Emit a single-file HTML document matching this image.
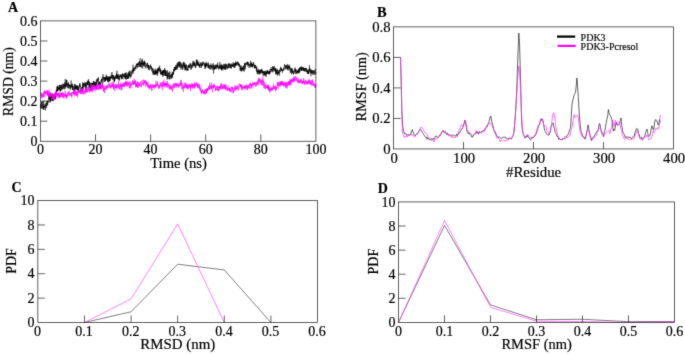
<!DOCTYPE html>
<html><head><meta charset="utf-8"><title>RMSD RMSF</title>
<style>
html,body{margin:0;padding:0;background:#fff;}
body{width:685px;height:354px;overflow:hidden;font-family:"Liberation Serif",serif;}
svg{display:block;}
svg text{font-family:"Liberation Serif",serif;fill:#000;stroke:#000;stroke-width:0.18px;}
</style></head><body>
<svg width="685" height="354" viewBox="0 0 685 354">
<defs><filter id="soft" x="0" y="0" width="685" height="354" filterUnits="userSpaceOnUse" color-interpolation-filters="sRGB"><feConvolveMatrix order="3" kernelMatrix="0.0113 0.0838 0.0113 0.0838 0.6193 0.0838 0.0113 0.0838 0.0113" divisor="1" edgeMode="duplicate" preserveAlpha="true"/></filter></defs>
<g filter="url(#soft)">
<rect width="685" height="354" fill="#fff"/>
<path d="M40.4,108.1 L40.5,104.2 L40.6,105.3 L40.7,106.5 L40.8,105.8 L40.9,108.3 L41.0,104.5 L41.1,108.5 L41.2,108.8 L41.4,108.7 L41.5,107.6 L41.6,101.7 L41.7,105.9 L41.8,104.3 L41.9,101.9 L42.0,105.7 L42.1,107.9 L42.2,107.2 L42.3,106.0 L42.4,108.9 L42.5,106.9 L42.6,106.0 L42.7,101.3 L42.8,103.4 L42.9,105.1 L43.1,106.6 L43.2,106.5 L43.3,108.5 L43.4,105.7 L43.5,109.7 L43.6,105.2 L43.7,100.6 L43.8,105.2 L43.9,104.0 L44.0,106.8 L44.1,110.0 L44.2,106.2 L44.3,107.5 L44.4,105.2 L44.5,105.7 L44.6,105.5 L44.7,106.9 L44.9,105.0 L45.0,104.9 L45.1,107.9 L45.2,107.5 L45.3,105.0 L45.4,105.8 L45.5,108.1 L45.6,110.4 L45.7,107.0 L45.8,102.8 L45.9,105.7 L46.0,104.5 L46.1,104.9 L46.2,104.1 L46.3,103.4 L46.4,103.9 L46.5,106.0 L46.7,107.9 L46.8,100.8 L46.9,103.6 L47.0,105.7 L47.1,103.2 L47.2,102.4 L47.3,101.1 L47.4,102.6 L47.5,104.5 L47.6,102.5 L47.7,105.1 L47.8,104.9 L47.9,100.1 L48.0,102.3 L48.1,101.7 L48.2,102.1 L48.4,102.4 L48.5,98.8 L48.6,98.7 L48.7,95.8 L48.8,99.6 L48.9,98.3 L49.0,98.4 L49.1,98.6 L49.2,93.3 L49.3,94.0 L49.4,95.8 L49.5,99.0 L49.6,96.2 L49.7,97.6 L49.8,100.2 L49.9,102.4 L50.0,95.7 L50.2,102.4 L50.3,97.0 L50.4,100.6 L50.5,99.9 L50.6,96.5 L50.7,101.2 L50.8,99.5 L50.9,97.5 L51.0,94.5 L51.1,95.6 L51.2,97.3 L51.3,99.7 L51.4,94.0 L51.5,97.2 L51.6,96.1 L51.7,100.9 L51.8,97.1 L52.0,95.5 L52.1,97.6 L52.2,95.7 L52.3,94.6 L52.4,93.5 L52.5,98.2 L52.6,99.9 L52.7,101.3 L52.8,96.7 L52.9,99.9 L53.0,94.8 L53.1,100.5 L53.2,93.8 L53.3,96.4 L53.4,100.9 L53.5,96.8 L53.7,95.9 L53.8,95.9 L53.9,96.9 L54.0,96.0 L54.1,96.5 L54.2,98.3 L54.3,96.1 L54.4,98.5 L54.5,94.6 L54.6,98.6 L54.7,96.6 L54.8,99.0 L54.9,94.1 L55.0,96.0 L55.1,99.5 L55.2,97.3 L55.3,98.1 L55.5,96.1 L55.6,96.5 L55.7,96.7 L55.8,96.1 L55.9,98.4 L56.0,93.7 L56.1,92.3 L56.2,95.2 L56.3,92.3 L56.4,89.9 L56.5,90.8 L56.6,89.6 L56.7,90.0 L56.8,92.0 L56.9,86.7 L57.0,90.6 L57.1,91.6 L57.3,86.3 L57.4,90.9 L57.5,87.2 L57.6,90.7 L57.7,87.3 L57.8,85.3 L57.9,89.0 L58.0,87.8 L58.1,86.6 L58.2,88.9 L58.3,87.4 L58.4,88.1 L58.5,89.7 L58.6,90.6 L58.7,88.3 L58.8,87.8 L59.0,88.1 L59.1,89.4 L59.2,88.8 L59.3,90.1 L59.4,85.2 L59.5,89.3 L59.6,85.6 L59.7,87.9 L59.8,88.3 L59.9,84.7 L60.0,88.3 L60.1,92.2 L60.2,88.7 L60.3,89.8 L60.4,85.2 L60.5,90.9 L60.6,89.9 L60.8,90.9 L60.9,90.7 L61.0,87.5 L61.1,87.0 L61.2,85.4 L61.3,87.4 L61.4,88.4 L61.5,86.4 L61.6,88.5 L61.7,84.4 L61.8,90.4 L61.9,86.3 L62.0,89.3 L62.1,88.0 L62.2,88.7 L62.3,88.3 L62.4,84.5 L62.6,87.5 L62.7,88.8 L62.8,88.0 L62.9,87.9 L63.0,85.9 L63.1,83.7 L63.2,85.5 L63.3,85.2 L63.4,85.6 L63.5,83.9 L63.6,87.6 L63.7,85.6 L63.8,88.8 L63.9,89.2 L64.0,84.8 L64.1,86.3 L64.3,85.9 L64.4,89.3 L64.5,86.5 L64.6,82.6 L64.7,86.2 L64.8,85.5 L64.9,86.6 L65.0,84.3 L65.1,87.4 L65.2,78.9 L65.3,84.6 L65.4,85.1 L65.5,83.2 L65.6,88.1 L65.7,88.3 L65.8,88.6 L65.9,86.1 L66.1,81.6 L66.2,87.0 L66.3,79.7 L66.4,81.9 L66.5,80.7 L66.6,82.6 L66.7,86.0 L66.8,85.8 L66.9,80.0 L67.0,85.3 L67.1,84.6 L67.2,84.9 L67.3,83.2 L67.4,83.9 L67.5,86.4 L67.6,87.3 L67.7,83.9 L67.9,88.0 L68.0,87.4 L68.1,88.1 L68.2,87.6 L68.3,88.5 L68.4,83.6 L68.5,85.2 L68.6,82.1 L68.7,86.1 L68.8,85.0 L68.9,87.5 L69.0,84.4 L69.1,85.4 L69.2,86.4 L69.3,84.9 L69.4,86.9 L69.6,86.6 L69.7,87.2 L69.8,84.7 L69.9,88.4 L70.0,89.2 L70.1,84.9 L70.2,87.1 L70.3,89.4 L70.4,89.5 L70.5,87.3 L70.6,87.1 L70.7,85.3 L70.8,87.8 L70.9,87.9 L71.0,83.2 L71.1,80.4 L71.2,82.2 L71.4,86.3 L71.5,85.2 L71.6,87.5 L71.7,84.4 L71.8,87.1 L71.9,87.3 L72.0,83.4 L72.1,84.1 L72.2,87.0 L72.3,89.9 L72.4,88.9 L72.5,90.0 L72.6,84.1 L72.7,88.7 L72.8,86.8 L72.9,87.4 L73.0,89.6 L73.2,86.4 L73.3,86.0 L73.4,86.5 L73.5,87.0 L73.6,86.3 L73.7,89.0 L73.8,88.7 L73.9,89.0 L74.0,90.6 L74.1,88.5 L74.2,94.0 L74.3,90.8 L74.4,88.1 L74.5,83.9 L74.6,85.3 L74.7,88.9 L74.9,85.7 L75.0,88.4 L75.1,89.4 L75.2,88.1 L75.3,84.2 L75.4,85.0 L75.5,89.0 L75.6,89.5 L75.7,84.9 L75.8,88.9 L75.9,88.8 L76.0,86.4 L76.1,90.2 L76.2,89.3 L76.3,87.7 L76.4,88.5 L76.5,86.6 L76.7,88.5 L76.8,86.1 L76.9,85.2 L77.0,88.7 L77.1,85.5 L77.2,86.4 L77.3,89.0 L77.4,89.7 L77.5,89.5 L77.6,85.7 L77.7,88.4 L77.8,88.7 L77.9,90.1 L78.0,87.4 L78.1,91.2 L78.2,87.2 L78.3,90.8 L78.5,91.4 L78.6,86.6 L78.7,86.9 L78.8,87.1 L78.9,90.0 L79.0,86.3 L79.1,87.3 L79.2,87.2 L79.3,86.0 L79.4,84.7 L79.5,87.2 L79.6,83.3 L79.7,85.4 L79.8,85.8 L79.9,85.4 L80.0,85.9 L80.2,83.6 L80.3,86.1 L80.4,86.2 L80.5,86.8 L80.6,86.0 L80.7,91.4 L80.8,90.5 L80.9,89.5 L81.0,87.7 L81.1,88.0 L81.2,90.3 L81.3,92.8 L81.4,93.4 L81.5,89.7 L81.6,90.2 L81.7,88.5 L81.8,87.0 L82.0,92.2 L82.1,87.5 L82.2,90.7 L82.3,89.2 L82.4,87.0 L82.5,90.7 L82.6,81.9 L82.7,87.9 L82.8,84.8 L82.9,87.9 L83.0,89.0 L83.1,88.5 L83.2,88.5 L83.3,89.6 L83.4,89.8 L83.5,83.1 L83.6,86.5 L83.8,85.3 L83.9,83.3 L84.0,87.3 L84.1,85.7 L84.2,83.0 L84.3,83.9 L84.4,83.7 L84.5,86.5 L84.6,86.3 L84.7,83.3 L84.8,85.3 L84.9,82.3 L85.0,82.9 L85.1,84.7 L85.2,84.3 L85.3,85.7 L85.5,84.6 L85.6,91.6 L85.7,88.0 L85.8,84.7 L85.9,82.3 L86.0,88.4 L86.1,85.4 L86.2,84.2 L86.3,82.5 L86.4,86.1 L86.5,89.2 L86.6,85.3 L86.7,84.5 L86.8,84.4 L86.9,83.7 L87.0,82.2 L87.1,85.3 L87.3,81.6 L87.4,80.9 L87.5,83.6 L87.6,85.0 L87.7,84.9 L87.8,82.0 L87.9,85.0 L88.0,80.4 L88.1,82.6 L88.2,83.9 L88.3,81.2 L88.4,83.0 L88.5,79.0 L88.6,79.8 L88.7,84.6 L88.8,84.4 L88.9,88.2 L89.1,83.4 L89.2,84.4 L89.3,83.7 L89.4,87.6 L89.5,81.5 L89.6,82.8 L89.7,86.5 L89.8,85.8 L89.9,85.0 L90.0,82.7 L90.1,83.7 L90.2,85.1 L90.3,85.8 L90.4,88.5 L90.5,87.4 L90.6,89.3 L90.8,83.2 L90.9,85.0 L91.0,84.9 L91.1,86.5 L91.2,87.5 L91.3,90.1 L91.4,87.0 L91.5,85.8 L91.6,85.1 L91.7,82.7 L91.8,83.7 L91.9,86.8 L92.0,85.7 L92.1,82.8 L92.2,89.1 L92.3,84.4 L92.4,82.9 L92.6,83.1 L92.7,84.5 L92.8,82.9 L92.9,84.6 L93.0,84.9 L93.1,83.2 L93.2,83.3 L93.3,83.2 L93.4,80.8 L93.5,81.0 L93.6,88.3 L93.7,83.0 L93.8,82.3 L93.9,81.2 L94.0,84.1 L94.1,83.6 L94.2,82.4 L94.4,85.1 L94.5,87.0 L94.6,82.8 L94.7,83.2 L94.8,86.2 L94.9,81.8 L95.0,84.9 L95.1,82.1 L95.2,86.0 L95.3,84.6 L95.4,86.3 L95.5,85.5 L95.6,83.7 L95.7,83.5 L95.8,85.8 L95.9,81.8 L96.1,87.0 L96.2,88.1 L96.3,84.1 L96.4,79.5 L96.5,84.6 L96.6,85.9 L96.7,84.1 L96.8,81.5 L96.9,81.4 L97.0,82.0 L97.1,80.7 L97.2,78.5 L97.3,81.3 L97.4,79.5 L97.5,80.9 L97.6,80.6 L97.7,79.1 L97.9,80.9 L98.0,83.3 L98.1,79.4 L98.2,78.1 L98.3,79.9 L98.4,76.9 L98.5,79.3 L98.6,85.1 L98.7,83.7 L98.8,85.4 L98.9,85.2 L99.0,85.2 L99.1,82.9 L99.2,82.1 L99.3,87.4 L99.4,82.8 L99.5,84.8 L99.7,81.3 L99.8,84.8 L99.9,88.2 L100.0,83.4 L100.1,82.2 L100.2,82.1 L100.3,82.4 L100.4,84.8 L100.5,84.1 L100.6,82.9 L100.7,83.9 L100.8,82.2 L100.9,81.3 L101.0,79.8 L101.1,79.9 L101.2,80.4 L101.4,79.5 L101.5,81.3 L101.6,82.9 L101.7,79.1 L101.8,81.5 L101.9,81.4 L102.0,78.7 L102.1,79.3 L102.2,79.6 L102.3,76.8 L102.4,79.0 L102.5,79.7 L102.6,81.0 L102.7,84.0 L102.8,83.0 L102.9,80.2 L103.0,74.1 L103.2,78.3 L103.3,79.8 L103.4,77.6 L103.5,77.3 L103.6,77.9 L103.7,76.9 L103.8,77.2 L103.9,79.2 L104.0,78.7 L104.1,82.0 L104.2,78.1 L104.3,77.9 L104.4,78.5 L104.5,77.1 L104.6,80.9 L104.7,80.5 L104.8,77.2 L105.0,82.0 L105.1,78.5 L105.2,78.7 L105.3,78.0 L105.4,80.8 L105.5,77.8 L105.6,80.4 L105.7,76.8 L105.8,77.9 L105.9,78.1 L106.0,76.4 L106.1,74.6 L106.2,79.2 L106.3,78.0 L106.4,80.1 L106.5,76.0 L106.7,76.1 L106.8,79.4 L106.9,78.4 L107.0,80.6 L107.1,77.9 L107.2,76.5 L107.3,79.2 L107.4,78.7 L107.5,81.9 L107.6,76.3 L107.7,80.5 L107.8,78.1 L107.9,79.1 L108.0,77.1 L108.1,79.7 L108.2,79.7 L108.3,80.5 L108.5,76.8 L108.6,82.5 L108.7,76.7 L108.8,77.4 L108.9,77.2 L109.0,81.9 L109.1,81.0 L109.2,80.1 L109.3,78.2 L109.4,81.3 L109.5,76.7 L109.6,81.0 L109.7,76.5 L109.8,77.4 L109.9,77.7 L110.0,77.7 L110.1,77.0 L110.3,80.8 L110.4,76.7 L110.5,79.0 L110.6,78.7 L110.7,79.1 L110.8,76.3 L110.9,76.6 L111.0,78.0 L111.1,78.5 L111.2,74.7 L111.3,78.1 L111.4,76.5 L111.5,77.8 L111.6,75.0 L111.7,72.7 L111.8,73.4 L112.0,72.2 L112.1,72.3 L112.2,78.4 L112.3,77.2 L112.4,77.4 L112.5,74.8 L112.6,76.7 L112.7,79.9 L112.8,75.1 L112.9,77.5 L113.0,74.9 L113.1,78.4 L113.2,75.8 L113.3,75.1 L113.4,79.1 L113.5,77.5 L113.6,77.5 L113.8,78.4 L113.9,78.0 L114.0,82.5 L114.1,76.9 L114.2,78.2 L114.3,80.7 L114.4,77.6 L114.5,81.8 L114.6,80.5 L114.7,76.8 L114.8,78.5 L114.9,80.4 L115.0,76.0 L115.1,79.0 L115.2,78.1 L115.3,77.6 L115.4,76.3 L115.6,76.4 L115.7,78.9 L115.8,77.4 L115.9,75.4 L116.0,74.8 L116.1,76.3 L116.2,75.2 L116.3,75.0 L116.4,78.2 L116.5,76.6 L116.6,73.3 L116.7,77.2 L116.8,74.8 L116.9,79.1 L117.0,70.7 L117.1,77.2 L117.3,74.8 L117.4,76.1 L117.5,79.1 L117.6,77.2 L117.7,75.2 L117.8,77.8 L117.9,75.6 L118.0,78.2 L118.1,76.0 L118.2,74.1 L118.3,79.4 L118.4,76.6 L118.5,78.1 L118.6,78.7 L118.7,76.9 L118.8,76.8 L118.9,75.3 L119.1,75.3 L119.2,80.8 L119.3,78.4 L119.4,80.2 L119.5,76.7 L119.6,75.9 L119.7,76.5 L119.8,78.4 L119.9,76.2 L120.0,74.5 L120.1,75.4 L120.2,76.7 L120.3,76.9 L120.4,74.5 L120.5,76.6 L120.6,76.1 L120.7,76.6 L120.9,75.1 L121.0,75.9 L121.1,77.8 L121.2,78.3 L121.3,77.6 L121.4,76.3 L121.5,75.2 L121.6,79.3 L121.7,74.0 L121.8,78.2 L121.9,77.0 L122.0,79.3 L122.1,77.9 L122.2,76.6 L122.3,75.4 L122.4,75.5 L122.6,74.4 L122.7,76.3 L122.8,73.0 L122.9,79.0 L123.0,75.9 L123.1,75.9 L123.2,76.0 L123.3,75.2 L123.4,76.7 L123.5,74.7 L123.6,76.1 L123.7,74.3 L123.8,74.7 L123.9,74.7 L124.0,74.8 L124.1,76.9 L124.2,74.0 L124.4,73.4 L124.5,76.1 L124.6,77.2 L124.7,76.4 L124.8,73.7 L124.9,78.5 L125.0,76.0 L125.1,76.5 L125.2,75.1 L125.3,79.4 L125.4,75.6 L125.5,79.0 L125.6,75.7 L125.7,73.3 L125.8,76.2 L125.9,72.6 L126.0,76.3 L126.2,76.0 L126.3,72.4 L126.4,74.7 L126.5,75.7 L126.6,79.6 L126.7,77.3 L126.8,75.3 L126.9,77.3 L127.0,77.7 L127.1,75.6 L127.2,79.0 L127.3,77.8 L127.4,74.2 L127.5,73.4 L127.6,79.0 L127.7,77.1 L127.9,76.2 L128.0,78.2 L128.1,77.8 L128.2,76.4 L128.3,78.2 L128.4,77.4 L128.5,72.5 L128.6,78.8 L128.7,71.7 L128.8,72.7 L128.9,76.4 L129.0,73.0 L129.1,74.5 L129.2,77.1 L129.3,75.7 L129.4,75.4 L129.5,70.8 L129.7,75.6 L129.8,75.7 L129.9,74.5 L130.0,75.6 L130.1,70.8 L130.2,75.3 L130.3,75.9 L130.4,75.0 L130.5,75.8 L130.6,78.2 L130.7,74.8 L130.8,75.3 L130.9,74.5 L131.0,71.9 L131.1,72.5 L131.2,73.1 L131.3,76.5 L131.5,74.2 L131.6,74.4 L131.7,73.4 L131.8,73.3 L131.9,72.5 L132.0,70.2 L132.1,74.2 L132.2,70.5 L132.3,71.8 L132.4,72.1 L132.5,71.5 L132.6,72.4 L132.7,71.3 L132.8,69.3 L132.9,71.8 L133.0,64.7 L133.2,73.6 L133.3,73.2 L133.4,68.1 L133.5,70.6 L133.6,70.0 L133.7,70.7 L133.8,68.7 L133.9,70.2 L134.0,67.9 L134.1,70.0 L134.2,69.3 L134.3,67.7 L134.4,67.6 L134.5,68.7 L134.6,70.0 L134.7,71.1 L134.8,70.4 L135.0,66.9 L135.1,69.0 L135.2,68.8 L135.3,67.7 L135.4,66.8 L135.5,65.8 L135.6,67.5 L135.7,67.8 L135.8,69.2 L135.9,66.0 L136.0,66.9 L136.1,66.4 L136.2,67.2 L136.3,64.5 L136.4,63.8 L136.5,65.8 L136.7,64.2 L136.8,65.2 L136.9,65.6 L137.0,63.4 L137.1,67.1 L137.2,65.8 L137.3,68.3 L137.4,63.9 L137.5,65.2 L137.6,64.3 L137.7,65.0 L137.8,63.4 L137.9,65.0 L138.0,65.2 L138.1,63.1 L138.2,62.8 L138.3,64.1 L138.5,62.1 L138.6,62.3 L138.7,65.3 L138.8,64.4 L138.9,64.1 L139.0,67.0 L139.1,65.5 L139.2,67.1 L139.3,61.4 L139.4,65.4 L139.5,64.3 L139.6,63.4 L139.7,61.3 L139.8,64.4 L139.9,62.4 L140.0,62.5 L140.1,58.1 L140.3,66.1 L140.4,65.7 L140.5,66.6 L140.6,63.6 L140.7,65.9 L140.8,63.2 L140.9,67.6 L141.0,63.1 L141.1,63.4 L141.2,61.1 L141.3,62.9 L141.4,63.8 L141.5,62.9 L141.6,67.4 L141.7,63.4 L141.8,62.1 L142.0,59.6 L142.1,62.1 L142.2,64.4 L142.3,58.7 L142.4,64.1 L142.5,62.6 L142.6,64.7 L142.7,68.7 L142.8,61.7 L142.9,64.7 L143.0,63.3 L143.1,65.7 L143.2,63.2 L143.3,61.5 L143.4,63.2 L143.5,64.5 L143.6,64.5 L143.8,63.4 L143.9,66.1 L144.0,63.8 L144.1,62.2 L144.2,66.3 L144.3,66.1 L144.4,60.8 L144.5,64.5 L144.6,60.8 L144.7,64.1 L144.8,63.0 L144.9,64.1 L145.0,62.0 L145.1,62.4 L145.2,65.6 L145.3,68.3 L145.4,66.8 L145.6,65.1 L145.7,66.9 L145.8,63.7 L145.9,64.3 L146.0,64.2 L146.1,63.9 L146.2,63.9 L146.3,63.9 L146.4,64.3 L146.5,66.0 L146.6,65.7 L146.7,65.8 L146.8,65.2 L146.9,68.3 L147.0,68.0 L147.1,63.1 L147.3,64.2 L147.4,63.9 L147.5,62.7 L147.6,66.4 L147.7,64.4 L147.8,65.9 L147.9,68.2 L148.0,65.1 L148.1,65.4 L148.2,64.8 L148.3,66.5 L148.4,66.5 L148.5,68.8 L148.6,64.9 L148.7,70.2 L148.8,66.8 L148.9,67.8 L149.1,67.4 L149.2,66.0 L149.3,67.2 L149.4,69.7 L149.5,70.2 L149.6,69.6 L149.7,67.7 L149.8,66.5 L149.9,65.9 L150.0,65.3 L150.1,66.0 L150.2,66.4 L150.3,67.4 L150.4,66.3 L150.5,67.1 L150.6,64.5 L150.7,65.4 L150.9,69.3 L151.0,67.2 L151.1,66.3 L151.2,68.1 L151.3,66.4 L151.4,68.1 L151.5,68.5 L151.6,67.8 L151.7,70.3 L151.8,70.7 L151.9,70.1 L152.0,67.9 L152.1,69.4 L152.2,71.7 L152.3,68.0 L152.4,68.8 L152.6,68.5 L152.7,69.2 L152.8,70.3 L152.9,73.3 L153.0,71.0 L153.1,74.9 L153.2,72.9 L153.3,68.7 L153.4,71.2 L153.5,71.5 L153.6,73.2 L153.7,71.0 L153.8,73.7 L153.9,71.6 L154.0,71.5 L154.1,73.1 L154.2,74.2 L154.4,75.1 L154.5,72.4 L154.6,72.5 L154.7,72.6 L154.8,70.2 L154.9,74.4 L155.0,70.3 L155.1,75.0 L155.2,68.5 L155.3,70.5 L155.4,70.8 L155.5,74.0 L155.6,71.7 L155.7,71.8 L155.8,73.2 L155.9,73.5 L156.0,71.4 L156.2,73.4 L156.3,69.3 L156.4,70.9 L156.5,73.1 L156.6,71.2 L156.7,72.9 L156.8,74.8 L156.9,71.8 L157.0,73.9 L157.1,69.5 L157.2,70.1 L157.3,75.9 L157.4,71.1 L157.5,72.7 L157.6,68.4 L157.7,71.5 L157.9,71.4 L158.0,70.0 L158.1,73.3 L158.2,71.1 L158.3,68.2 L158.4,71.0 L158.5,69.2 L158.6,70.9 L158.7,67.0 L158.8,66.9 L158.9,70.1 L159.0,70.4 L159.1,67.8 L159.2,69.4 L159.3,69.8 L159.4,70.7 L159.5,66.7 L159.7,65.6 L159.8,68.7 L159.9,72.0 L160.0,71.4 L160.1,68.4 L160.2,72.3 L160.3,71.3 L160.4,70.6 L160.5,71.9 L160.6,69.1 L160.7,74.1 L160.8,72.0 L160.9,74.0 L161.0,71.8 L161.1,75.1 L161.2,73.2 L161.3,70.5 L161.5,74.1 L161.6,72.4 L161.7,73.5 L161.8,72.4 L161.9,73.9 L162.0,72.4 L162.1,74.9 L162.2,72.8 L162.3,71.2 L162.4,73.9 L162.5,71.9 L162.6,70.6 L162.7,72.2 L162.8,76.7 L162.9,70.3 L163.0,76.1 L163.2,73.4 L163.3,72.5 L163.4,70.1 L163.5,73.3 L163.6,75.1 L163.7,72.0 L163.8,69.9 L163.9,73.0 L164.0,69.9 L164.1,72.1 L164.2,71.9 L164.3,72.9 L164.4,71.4 L164.5,71.2 L164.6,68.0 L164.7,75.6 L164.8,69.4 L165.0,71.4 L165.1,73.9 L165.2,75.8 L165.3,71.5 L165.4,76.0 L165.5,69.9 L165.6,75.7 L165.7,73.2 L165.8,75.1 L165.9,75.8 L166.0,74.6 L166.1,70.5 L166.2,73.7 L166.3,73.7 L166.4,72.3 L166.5,71.4 L166.6,76.1 L166.8,74.5 L166.9,75.1 L167.0,75.8 L167.1,79.6 L167.2,74.5 L167.3,74.9 L167.4,77.3 L167.5,70.3 L167.6,78.5 L167.7,76.3 L167.8,75.0 L167.9,76.5 L168.0,75.2 L168.1,72.9 L168.2,77.6 L168.3,79.0 L168.5,76.6 L168.6,76.8 L168.7,76.0 L168.8,76.4 L168.9,75.2 L169.0,72.1 L169.1,76.1 L169.2,72.8 L169.3,76.3 L169.4,77.4 L169.5,79.7 L169.6,76.1 L169.7,75.3 L169.8,71.2 L169.9,78.9 L170.0,77.0 L170.1,76.4 L170.3,75.7 L170.4,75.7 L170.5,77.0 L170.6,75.9 L170.7,77.9 L170.8,77.8 L170.9,75.4 L171.0,74.1 L171.1,76.5 L171.2,78.9 L171.3,76.3 L171.4,75.2 L171.5,76.2 L171.6,73.9 L171.7,78.5 L171.8,77.1 L171.9,77.3 L172.1,72.3 L172.2,74.3 L172.3,76.1 L172.4,77.2 L172.5,73.4 L172.6,77.2 L172.7,72.0 L172.8,72.3 L172.9,73.1 L173.0,74.2 L173.1,74.3 L173.2,72.0 L173.3,73.9 L173.4,71.1 L173.5,74.7 L173.6,69.3 L173.8,71.7 L173.9,69.1 L174.0,69.2 L174.1,71.2 L174.2,69.9 L174.3,69.8 L174.4,67.0 L174.5,69.8 L174.6,71.2 L174.7,67.0 L174.8,68.2 L174.9,70.3 L175.0,67.2 L175.1,69.8 L175.2,67.4 L175.3,69.0 L175.4,65.8 L175.6,66.2 L175.7,65.4 L175.8,69.9 L175.9,68.6 L176.0,69.6 L176.1,68.1 L176.2,66.9 L176.3,68.9 L176.4,66.3 L176.5,66.2 L176.6,66.2 L176.7,67.0 L176.8,66.8 L176.9,64.8 L177.0,69.8 L177.1,63.4 L177.2,68.5 L177.4,65.8 L177.5,66.0 L177.6,64.3 L177.7,65.4 L177.8,62.0 L177.9,67.8 L178.0,64.1 L178.1,65.3 L178.2,63.7 L178.3,66.1 L178.4,62.6 L178.5,63.4 L178.6,62.9 L178.7,64.0 L178.8,63.3 L178.9,61.4 L179.1,64.3 L179.2,67.4 L179.3,63.2 L179.4,61.8 L179.5,63.9 L179.6,64.4 L179.7,67.0 L179.8,63.8 L179.9,66.6 L180.0,63.5 L180.1,63.4 L180.2,61.7 L180.3,63.4 L180.4,63.5 L180.5,65.5 L180.6,62.5 L180.7,69.4 L180.9,67.6 L181.0,62.6 L181.1,67.2 L181.2,67.8 L181.3,67.0 L181.4,64.3 L181.5,64.1 L181.6,64.3 L181.7,66.2 L181.8,66.4 L181.9,65.7 L182.0,67.9 L182.1,66.2 L182.2,69.6 L182.3,65.6 L182.4,67.2 L182.5,66.9 L182.7,66.7 L182.8,69.8 L182.9,62.9 L183.0,65.9 L183.1,64.7 L183.2,65.1 L183.3,64.2 L183.4,65.9 L183.5,62.0 L183.6,64.9 L183.7,66.9 L183.8,67.0 L183.9,61.7 L184.0,68.0 L184.1,67.7 L184.2,68.3 L184.4,65.4 L184.5,65.9 L184.6,63.4 L184.7,67.2 L184.8,67.8 L184.9,63.0 L185.0,70.6 L185.1,66.5 L185.2,69.5 L185.3,65.2 L185.4,67.5 L185.5,64.9 L185.6,67.2 L185.7,65.8 L185.8,69.9 L185.9,68.6 L186.0,68.2 L186.2,69.1 L186.3,67.1 L186.4,67.1 L186.5,64.3 L186.6,70.8 L186.7,68.5 L186.8,69.4 L186.9,68.4 L187.0,67.5 L187.1,65.6 L187.2,66.5 L187.3,69.9 L187.4,69.7 L187.5,69.6 L187.6,68.3 L187.7,70.7 L187.8,68.6 L188.0,70.6 L188.1,67.6 L188.2,67.4 L188.3,65.3 L188.4,67.1 L188.5,67.0 L188.6,65.5 L188.7,68.1 L188.8,64.8 L188.9,66.9 L189.0,65.8 L189.1,67.3 L189.2,66.9 L189.3,67.1 L189.4,67.4 L189.5,66.5 L189.7,64.9 L189.8,68.1 L189.9,65.5 L190.0,63.5 L190.1,65.9 L190.2,63.5 L190.3,64.0 L190.4,66.9 L190.5,67.0 L190.6,63.7 L190.7,63.8 L190.8,64.7 L190.9,65.3 L191.0,69.3 L191.1,66.4 L191.2,69.8 L191.3,68.4 L191.5,68.1 L191.6,67.2 L191.7,65.2 L191.8,66.3 L191.9,68.0 L192.0,66.1 L192.1,64.0 L192.2,63.0 L192.3,67.4 L192.4,65.0 L192.5,64.0 L192.6,64.2 L192.7,65.1 L192.8,62.4 L192.9,60.8 L193.0,63.6 L193.1,65.9 L193.3,66.5 L193.4,63.1 L193.5,61.8 L193.6,64.3 L193.7,64.3 L193.8,64.8 L193.9,61.2 L194.0,66.2 L194.1,63.5 L194.2,65.6 L194.3,63.3 L194.4,64.3 L194.5,62.8 L194.6,65.7 L194.7,65.4 L194.8,65.6 L195.0,66.3 L195.1,62.6 L195.2,64.3 L195.3,67.6 L195.4,65.1 L195.5,66.1 L195.6,67.9 L195.7,65.2 L195.8,64.6 L195.9,65.8 L196.0,65.5 L196.1,65.8 L196.2,66.3 L196.3,59.7 L196.4,65.2 L196.5,61.8 L196.6,61.2 L196.8,61.8 L196.9,65.3 L197.0,60.1 L197.1,62.7 L197.2,59.6 L197.3,63.7 L197.4,65.1 L197.5,61.9 L197.6,64.4 L197.7,63.4 L197.8,62.1 L197.9,65.4 L198.0,65.6 L198.1,64.5 L198.2,63.4 L198.3,65.7 L198.4,65.9 L198.6,63.3 L198.7,63.5 L198.8,65.5 L198.9,61.4 L199.0,65.1 L199.1,64.2 L199.2,66.8 L199.3,64.9 L199.4,64.7 L199.5,66.0 L199.6,67.5 L199.7,65.3 L199.8,65.1 L199.9,64.3 L200.0,67.9 L200.1,64.8 L200.3,65.8 L200.4,63.3 L200.5,64.9 L200.6,64.8 L200.7,64.5 L200.8,63.7 L200.9,62.0 L201.0,64.7 L201.1,64.3 L201.2,66.2 L201.3,64.6 L201.4,67.9 L201.5,65.9 L201.6,62.9 L201.7,64.9 L201.8,65.6 L201.9,65.6 L202.1,65.9 L202.2,64.0 L202.3,65.6 L202.4,65.9 L202.5,62.6 L202.6,64.0 L202.7,64.4 L202.8,65.4 L202.9,62.6 L203.0,61.4 L203.1,64.3 L203.2,63.0 L203.3,62.4 L203.4,62.2 L203.5,63.7 L203.6,63.4 L203.7,63.7 L203.9,64.6 L204.0,63.8 L204.1,63.9 L204.2,65.0 L204.3,66.1 L204.4,65.3 L204.5,65.5 L204.6,64.2 L204.7,62.7 L204.8,63.5 L204.9,63.4 L205.0,68.9 L205.1,63.5 L205.2,68.4 L205.3,65.4 L205.4,65.3 L205.6,64.5 L205.7,67.0 L205.8,64.1 L205.9,67.4 L206.0,63.2 L206.1,66.8 L206.2,61.7 L206.3,66.1 L206.4,65.3 L206.5,65.3 L206.6,63.7 L206.7,65.6 L206.8,65.3 L206.9,65.5 L207.0,64.9 L207.1,63.0 L207.2,65.1 L207.4,64.2 L207.5,65.3 L207.6,65.1 L207.7,64.5 L207.8,65.3 L207.9,67.9 L208.0,65.8 L208.1,66.4 L208.2,65.6 L208.3,62.3 L208.4,65.2 L208.5,67.9 L208.6,63.8 L208.7,67.5 L208.8,67.6 L208.9,67.6 L209.0,65.0 L209.2,69.3 L209.3,67.4 L209.4,67.8 L209.5,65.1 L209.6,66.0 L209.7,66.2 L209.8,66.4 L209.9,67.6 L210.0,68.8 L210.1,65.5 L210.2,67.3 L210.3,67.2 L210.4,67.8 L210.5,69.3 L210.6,68.9 L210.7,66.3 L210.9,63.5 L211.0,66.6 L211.1,64.7 L211.2,66.7 L211.3,66.0 L211.4,65.7 L211.5,67.9 L211.6,66.3 L211.7,67.3 L211.8,66.4 L211.9,69.8 L212.0,65.3 L212.1,65.1 L212.2,65.3 L212.3,65.2 L212.4,66.6 L212.5,66.4 L212.7,66.4 L212.8,69.3 L212.9,67.3 L213.0,67.3 L213.1,63.2 L213.2,67.7 L213.3,64.2 L213.4,68.3 L213.5,73.6 L213.6,69.0 L213.7,68.2 L213.8,65.1 L213.9,69.1 L214.0,67.6 L214.1,69.4 L214.2,67.7 L214.3,67.7 L214.5,69.8 L214.6,65.8 L214.7,66.9 L214.8,68.4 L214.9,65.4 L215.0,68.7 L215.1,67.0 L215.2,68.6 L215.3,69.1 L215.4,65.8 L215.5,65.2 L215.6,66.7 L215.7,66.6 L215.8,68.0 L215.9,64.4 L216.0,67.3 L216.2,65.8 L216.3,67.8 L216.4,69.2 L216.5,66.1 L216.6,64.8 L216.7,66.8 L216.8,66.6 L216.9,66.8 L217.0,65.9 L217.1,67.9 L217.2,68.2 L217.3,66.8 L217.4,64.7 L217.5,64.1 L217.6,65.9 L217.7,62.5 L217.8,67.6 L218.0,66.3 L218.1,65.5 L218.2,66.2 L218.3,66.4 L218.4,68.3 L218.5,68.9 L218.6,69.6 L218.7,65.5 L218.8,67.5 L218.9,66.9 L219.0,66.1 L219.1,66.9 L219.2,69.2 L219.3,67.3 L219.4,67.0 L219.5,65.5 L219.6,66.3 L219.8,68.2 L219.9,61.9 L220.0,65.8 L220.1,65.9 L220.2,68.0 L220.3,68.6 L220.4,66.6 L220.5,66.1 L220.6,66.6 L220.7,65.8 L220.8,66.5 L220.9,68.9 L221.0,63.9 L221.1,69.6 L221.2,64.9 L221.3,67.8 L221.5,70.5 L221.6,68.2 L221.7,65.2 L221.8,69.4 L221.9,67.6 L222.0,64.6 L222.1,68.4 L222.2,65.7 L222.3,69.3 L222.4,66.7 L222.5,67.4 L222.6,67.7 L222.7,68.4 L222.8,65.8 L222.9,70.5 L223.0,65.9 L223.1,67.5 L223.3,68.8 L223.4,66.8 L223.5,66.6 L223.6,67.3 L223.7,68.0 L223.8,64.2 L223.9,66.2 L224.0,68.1 L224.1,63.8 L224.2,65.7 L224.3,67.2 L224.4,69.3 L224.5,66.5 L224.6,68.8 L224.7,68.3 L224.8,68.0 L225.0,69.6 L225.1,64.0 L225.2,67.1 L225.3,65.2 L225.4,66.4 L225.5,63.5 L225.6,69.9 L225.7,66.3 L225.8,69.4 L225.9,65.1 L226.0,65.2 L226.1,65.1 L226.2,68.5 L226.3,66.2 L226.4,66.9 L226.5,66.4 L226.6,64.5 L226.8,66.5 L226.9,64.4 L227.0,64.7 L227.1,64.3 L227.2,67.1 L227.3,67.7 L227.4,67.2 L227.5,69.1 L227.6,68.3 L227.7,68.4 L227.8,66.4 L227.9,68.3 L228.0,66.5 L228.1,67.9 L228.2,63.6 L228.3,65.9 L228.4,65.8 L228.6,68.0 L228.7,64.5 L228.8,63.9 L228.9,66.2 L229.0,64.1 L229.1,63.0 L229.2,66.0 L229.3,63.9 L229.4,65.7 L229.5,65.6 L229.6,67.6 L229.7,66.3 L229.8,66.0 L229.9,65.5 L230.0,67.7 L230.1,67.9 L230.3,64.0 L230.4,66.3 L230.5,65.7 L230.6,66.0 L230.7,68.0 L230.8,66.5 L230.9,66.1 L231.0,68.8 L231.1,63.6 L231.2,68.0 L231.3,68.2 L231.4,66.2 L231.5,64.8 L231.6,64.7 L231.7,65.6 L231.8,63.6 L231.9,65.3 L232.1,66.7 L232.2,65.0 L232.3,66.7 L232.4,66.3 L232.5,64.4 L232.6,66.2 L232.7,66.3 L232.8,64.8 L232.9,65.3 L233.0,65.1 L233.1,66.1 L233.2,62.1 L233.3,64.5 L233.4,63.5 L233.5,64.4 L233.6,66.9 L233.7,65.3 L233.9,65.1 L234.0,63.5 L234.1,67.7 L234.2,67.2 L234.3,63.7 L234.4,67.4 L234.5,67.0 L234.6,64.1 L234.7,64.6 L234.8,63.0 L234.9,67.9 L235.0,63.2 L235.1,63.3 L235.2,65.8 L235.3,65.5 L235.4,63.1 L235.6,66.0 L235.7,61.2 L235.8,62.9 L235.9,66.2 L236.0,64.5 L236.1,63.6 L236.2,62.1 L236.3,65.0 L236.4,63.3 L236.5,63.4 L236.6,63.8 L236.7,64.7 L236.8,63.0 L236.9,63.7 L237.0,63.6 L237.1,63.0 L237.2,63.9 L237.4,61.6 L237.5,62.4 L237.6,63.1 L237.7,65.2 L237.8,62.1 L237.9,63.7 L238.0,64.0 L238.1,65.6 L238.2,64.9 L238.3,62.0 L238.4,63.7 L238.5,64.6 L238.6,64.6 L238.7,65.3 L238.8,63.7 L238.9,65.7 L239.0,66.5 L239.2,63.7 L239.3,65.5 L239.4,64.1 L239.5,66.6 L239.6,66.2 L239.7,65.1 L239.8,66.4 L239.9,67.4 L240.0,67.5 L240.1,70.6 L240.2,67.1 L240.3,67.5 L240.4,70.6 L240.5,66.4 L240.6,66.8 L240.7,65.5 L240.9,68.9 L241.0,68.0 L241.1,71.3 L241.2,65.8 L241.3,69.5 L241.4,68.8 L241.5,69.5 L241.6,70.7 L241.7,71.4 L241.8,68.3 L241.9,71.1 L242.0,67.7 L242.1,69.5 L242.2,67.8 L242.3,69.2 L242.4,69.3 L242.5,69.6 L242.7,66.9 L242.8,66.8 L242.9,66.6 L243.0,69.9 L243.1,68.6 L243.2,68.6 L243.3,65.8 L243.4,68.5 L243.5,70.3 L243.6,68.6 L243.7,70.9 L243.8,65.5 L243.9,68.0 L244.0,66.8 L244.1,71.7 L244.2,67.9 L244.3,68.6 L244.5,66.2 L244.6,64.6 L244.7,67.7 L244.8,62.9 L244.9,64.9 L245.0,63.1 L245.1,65.7 L245.2,65.3 L245.3,63.8 L245.4,69.3 L245.5,63.9 L245.6,62.9 L245.7,62.9 L245.8,63.4 L245.9,64.8 L246.0,64.1 L246.2,65.0 L246.3,62.7 L246.4,62.6 L246.5,64.0 L246.6,64.0 L246.7,63.6 L246.8,63.3 L246.9,62.7 L247.0,61.7 L247.1,64.2 L247.2,62.9 L247.3,62.8 L247.4,62.2 L247.5,64.5 L247.6,61.7 L247.7,63.5 L247.8,66.5 L248.0,62.4 L248.1,65.0 L248.2,64.5 L248.3,64.6 L248.4,64.2 L248.5,64.6 L248.6,62.3 L248.7,63.0 L248.8,65.6 L248.9,64.4 L249.0,67.9 L249.1,67.0 L249.2,65.5 L249.3,65.1 L249.4,64.5 L249.5,65.9 L249.6,65.5 L249.8,64.6 L249.9,64.1 L250.0,64.1 L250.1,64.7 L250.2,63.7 L250.3,67.6 L250.4,66.0 L250.5,66.5 L250.6,65.9 L250.7,60.7 L250.8,65.6 L250.9,62.8 L251.0,65.1 L251.1,65.3 L251.2,62.7 L251.3,65.8 L251.5,65.2 L251.6,64.4 L251.7,66.9 L251.8,62.5 L251.9,66.3 L252.0,64.9 L252.1,67.4 L252.2,66.3 L252.3,66.2 L252.4,64.0 L252.5,66.3 L252.6,66.8 L252.7,63.9 L252.8,65.2 L252.9,66.5 L253.0,64.6 L253.1,63.7 L253.3,62.8 L253.4,63.1 L253.5,63.7 L253.6,62.1 L253.7,65.9 L253.8,63.8 L253.9,64.6 L254.0,65.8 L254.1,65.2 L254.2,68.3 L254.3,67.0 L254.4,67.8 L254.5,65.4 L254.6,64.8 L254.7,68.0 L254.8,65.2 L254.9,67.0 L255.1,65.5 L255.2,65.1 L255.3,67.9 L255.4,67.2 L255.5,67.7 L255.6,65.2 L255.7,66.5 L255.8,65.7 L255.9,68.3 L256.0,67.1 L256.1,68.6 L256.2,68.1 L256.3,70.0 L256.4,70.4 L256.5,67.2 L256.6,71.7 L256.8,69.0 L256.9,66.6 L257.0,72.1 L257.1,71.6 L257.2,70.9 L257.3,74.4 L257.4,70.8 L257.5,73.0 L257.6,73.6 L257.7,70.8 L257.8,72.7 L257.9,69.6 L258.0,69.3 L258.1,69.0 L258.2,71.7 L258.3,71.6 L258.4,70.4 L258.6,74.2 L258.7,70.7 L258.8,71.0 L258.9,70.7 L259.0,72.4 L259.1,73.4 L259.2,69.7 L259.3,73.3 L259.4,70.7 L259.5,71.5 L259.6,74.5 L259.7,72.4 L259.8,70.9 L259.9,69.9 L260.0,69.5 L260.1,72.9 L260.2,70.2 L260.4,71.8 L260.5,71.6 L260.6,70.2 L260.7,73.7 L260.8,69.8 L260.9,70.4 L261.0,73.4 L261.1,72.2 L261.2,73.1 L261.3,71.9 L261.4,70.5 L261.5,69.4 L261.6,68.7 L261.7,72.1 L261.8,69.7 L261.9,71.6 L262.1,70.6 L262.2,71.3 L262.3,69.8 L262.4,72.8 L262.5,71.9 L262.6,73.4 L262.7,71.6 L262.8,72.3 L262.9,71.4 L263.0,75.5 L263.1,74.2 L263.2,73.2 L263.3,71.4 L263.4,73.0 L263.5,71.4 L263.6,71.3 L263.7,71.6 L263.9,76.2 L264.0,74.6 L264.1,71.2 L264.2,73.8 L264.3,75.2 L264.4,75.0 L264.5,73.1 L264.6,71.5 L264.7,74.6 L264.8,72.3 L264.9,70.8 L265.0,70.9 L265.1,73.6 L265.2,75.2 L265.3,72.6 L265.4,75.2 L265.5,71.4 L265.7,72.3 L265.8,75.6 L265.9,73.3 L266.0,74.5 L266.1,77.1 L266.2,70.8 L266.3,72.9 L266.4,73.3 L266.5,72.3 L266.6,73.3 L266.7,74.1 L266.8,72.2 L266.9,73.5 L267.0,70.5 L267.1,73.9 L267.2,73.6 L267.4,70.3 L267.5,72.5 L267.6,72.8 L267.7,70.1 L267.8,71.6 L267.9,73.4 L268.0,71.9 L268.1,71.0 L268.2,71.1 L268.3,74.0 L268.4,72.1 L268.5,74.1 L268.6,72.9 L268.7,74.3 L268.8,72.5 L268.9,73.3 L269.0,71.2 L269.2,73.4 L269.3,71.6 L269.4,74.5 L269.5,74.6 L269.6,71.4 L269.7,72.9 L269.8,71.4 L269.9,72.0 L270.0,69.2 L270.1,70.8 L270.2,70.9 L270.3,73.3 L270.4,72.2 L270.5,71.8 L270.6,70.8 L270.7,69.0 L270.8,70.8 L271.0,71.7 L271.1,67.1 L271.2,68.2 L271.3,71.3 L271.4,71.1 L271.5,69.3 L271.6,69.9 L271.7,69.0 L271.8,69.4 L271.9,70.6 L272.0,69.6 L272.1,69.5 L272.2,68.8 L272.3,69.5 L272.4,72.5 L272.5,69.8 L272.7,66.3 L272.8,69.7 L272.9,66.3 L273.0,69.5 L273.1,71.8 L273.2,70.1 L273.3,68.3 L273.4,69.1 L273.5,67.5 L273.6,68.9 L273.7,68.0 L273.8,69.4 L273.9,70.1 L274.0,66.7 L274.1,66.2 L274.2,67.8 L274.3,70.9 L274.5,68.7 L274.6,66.7 L274.7,68.9 L274.8,69.1 L274.9,70.8 L275.0,68.9 L275.1,68.6 L275.2,71.9 L275.3,69.4 L275.4,71.1 L275.5,67.9 L275.6,70.9 L275.7,74.3 L275.8,73.2 L275.9,70.2 L276.0,72.4 L276.1,74.4 L276.3,69.5 L276.4,73.0 L276.5,73.1 L276.6,70.6 L276.7,73.9 L276.8,70.2 L276.9,68.7 L277.0,72.4 L277.1,74.2 L277.2,75.1 L277.3,74.6 L277.4,69.4 L277.5,73.8 L277.6,72.8 L277.7,74.3 L277.8,75.5 L278.0,72.0 L278.1,73.3 L278.2,71.9 L278.3,72.9 L278.4,72.4 L278.5,72.3 L278.6,74.2 L278.7,72.0 L278.8,70.3 L278.9,72.8 L279.0,71.8 L279.1,72.6 L279.2,70.0 L279.3,72.6 L279.4,75.7 L279.5,71.4 L279.6,69.9 L279.8,69.9 L279.9,69.2 L280.0,70.4 L280.1,70.2 L280.2,72.2 L280.3,72.0 L280.4,70.2 L280.5,67.7 L280.6,67.7 L280.7,70.1 L280.8,70.7 L280.9,66.7 L281.0,67.8 L281.1,70.0 L281.2,68.0 L281.3,68.7 L281.4,70.8 L281.6,70.6 L281.7,71.3 L281.8,68.8 L281.9,69.9 L282.0,69.0 L282.1,70.2 L282.2,70.5 L282.3,70.5 L282.4,70.2 L282.5,72.7 L282.6,70.3 L282.7,69.8 L282.8,70.9 L282.9,70.5 L283.0,70.3 L283.1,69.9 L283.3,70.3 L283.4,69.1 L283.5,68.1 L283.6,67.5 L283.7,69.4 L283.8,70.6 L283.9,68.0 L284.0,68.7 L284.1,69.4 L284.2,67.7 L284.3,67.3 L284.4,66.9 L284.5,64.0 L284.6,66.3 L284.7,66.7 L284.8,65.3 L284.9,65.8 L285.1,67.4 L285.2,65.3 L285.3,67.7 L285.4,68.6 L285.5,67.9 L285.6,65.7 L285.7,68.2 L285.8,69.6 L285.9,68.4 L286.0,66.6 L286.1,66.7 L286.2,67.3 L286.3,67.2 L286.4,65.7 L286.5,65.0 L286.6,65.9 L286.7,68.7 L286.9,65.3 L287.0,65.6 L287.1,68.6 L287.2,69.1 L287.3,68.5 L287.4,63.9 L287.5,64.6 L287.6,69.7 L287.7,67.1 L287.8,66.7 L287.9,68.1 L288.0,66.7 L288.1,70.7 L288.2,67.8 L288.3,66.7 L288.4,66.4 L288.6,68.2 L288.7,65.3 L288.8,68.3 L288.9,66.0 L289.0,67.6 L289.1,66.1 L289.2,64.5 L289.3,68.2 L289.4,68.6 L289.5,68.1 L289.6,70.1 L289.7,69.2 L289.8,66.3 L289.9,68.9 L290.0,67.4 L290.1,67.6 L290.2,72.7 L290.4,72.1 L290.5,69.5 L290.6,69.1 L290.7,71.4 L290.8,71.8 L290.9,73.0 L291.0,71.4 L291.1,71.8 L291.2,69.2 L291.3,68.5 L291.4,70.1 L291.5,74.3 L291.6,70.0 L291.7,68.3 L291.8,70.4 L291.9,68.1 L292.0,71.5 L292.2,72.5 L292.3,68.9 L292.4,71.1 L292.5,72.4 L292.6,71.5 L292.7,72.4 L292.8,71.7 L292.9,72.4 L293.0,72.1 L293.1,70.2 L293.2,74.2 L293.3,72.3 L293.4,71.9 L293.5,73.4 L293.6,74.5 L293.7,71.4 L293.9,71.2 L294.0,73.5 L294.1,72.7 L294.2,72.1 L294.3,71.4 L294.4,71.5 L294.5,71.7 L294.6,69.7 L294.7,70.2 L294.8,71.3 L294.9,69.0 L295.0,69.7 L295.1,67.6 L295.2,71.6 L295.3,68.2 L295.4,71.4 L295.5,72.0 L295.7,71.1 L295.8,74.2 L295.9,70.7 L296.0,71.3 L296.1,73.7 L296.2,72.6 L296.3,69.6 L296.4,71.9 L296.5,71.6 L296.6,70.8 L296.7,70.9 L296.8,72.6 L296.9,71.8 L297.0,73.3 L297.1,71.8 L297.2,71.1 L297.3,72.1 L297.5,71.6 L297.6,73.6 L297.7,70.7 L297.8,70.1 L297.9,71.5 L298.0,71.7 L298.1,69.7 L298.2,72.9 L298.3,70.0 L298.4,73.1 L298.5,73.0 L298.6,72.6 L298.7,69.3 L298.8,68.5 L298.9,72.0 L299.0,68.5 L299.2,68.3 L299.3,73.3 L299.4,71.1 L299.5,71.4 L299.6,67.7 L299.7,71.3 L299.8,72.2 L299.9,71.6 L300.0,68.6 L300.1,70.9 L300.2,67.4 L300.3,67.8 L300.4,66.9 L300.5,69.4 L300.6,67.7 L300.7,69.1 L300.8,68.5 L301.0,68.5 L301.1,67.6 L301.2,69.7 L301.3,66.5 L301.4,70.9 L301.5,69.6 L301.6,69.2 L301.7,70.6 L301.8,66.7 L301.9,69.4 L302.0,67.5 L302.1,68.0 L302.2,68.6 L302.3,69.9 L302.4,70.2 L302.5,69.2 L302.6,68.0 L302.8,68.0 L302.9,67.0 L303.0,71.1 L303.1,70.8 L303.2,68.1 L303.3,67.3 L303.4,69.4 L303.5,69.7 L303.6,67.7 L303.7,70.9 L303.8,70.2 L303.9,68.4 L304.0,67.9 L304.1,71.0 L304.2,68.6 L304.3,70.5 L304.5,68.3 L304.6,68.6 L304.7,71.5 L304.8,68.1 L304.9,69.9 L305.0,69.8 L305.1,69.8 L305.2,69.4 L305.3,70.2 L305.4,70.1 L305.5,69.8 L305.6,68.1 L305.7,70.5 L305.8,71.9 L305.9,67.9 L306.0,69.5 L306.1,70.6 L306.3,71.5 L306.4,70.4 L306.5,68.0 L306.6,71.0 L306.7,71.3 L306.8,71.6 L306.9,69.2 L307.0,69.4 L307.1,70.9 L307.2,70.1 L307.3,73.2 L307.4,70.8 L307.5,73.8 L307.6,70.8 L307.7,73.8 L307.8,73.8 L307.9,71.6 L308.1,71.8 L308.2,70.7 L308.3,73.5 L308.4,69.4 L308.5,74.1 L308.6,71.6 L308.7,72.2 L308.8,72.5 L308.9,73.5 L309.0,70.3 L309.1,70.6 L309.2,72.2 L309.3,68.6 L309.4,65.2 L309.5,71.3 L309.6,67.7 L309.8,68.2 L309.9,70.4 L310.0,69.5 L310.1,69.6 L310.2,71.4 L310.3,70.5 L310.4,72.4 L310.5,72.7 L310.6,72.2 L310.7,72.4 L310.8,68.8 L310.9,76.3 L311.0,71.8 L311.1,73.9 L311.2,71.2 L311.3,70.2 L311.4,72.5 L311.6,71.1 L311.7,70.0 L311.8,72.4 L311.9,73.2 L312.0,71.6 L312.1,70.2 L312.2,71.4 L312.3,73.2 L312.4,70.3 L312.5,73.5 L312.6,74.5 L312.7,74.9 L312.8,74.2 L312.9,72.4 L313.0,73.2 L313.1,72.3 L313.2,73.2 L313.4,72.7 L313.5,70.2 L313.6,72.0 L313.7,72.1 L313.8,71.3 L313.9,74.3 L314.0,73.9 L314.1,74.8 L314.2,71.5 L314.3,71.1 L314.4,72.0 L314.5,71.6 L314.6,74.1 L314.7,72.9 L314.8,70.6 L314.9,72.1 L315.1,70.3 L315.2,70.5 L315.3,68.9 L315.4,72.7 L315.5,74.5 L315.6,74.1 L315.7,73.5 L315.8,72.3 L315.9,73.1" fill="none" stroke="#000" stroke-width="0.45" stroke-linejoin="round"/>
<path d="M40.4,96.7 L40.5,96.1 L40.6,95.4 L40.7,95.7 L40.8,93.0 L40.9,92.3 L41.0,94.2 L41.1,94.7 L41.2,96.7 L41.4,97.1 L41.5,96.4 L41.6,94.8 L41.7,93.2 L41.8,93.1 L41.9,98.8 L42.0,95.8 L42.1,94.1 L42.2,95.6 L42.3,93.7 L42.4,97.2 L42.5,96.0 L42.6,96.6 L42.7,94.5 L42.8,94.3 L42.9,96.9 L43.1,93.9 L43.2,93.2 L43.3,94.4 L43.4,95.1 L43.5,96.8 L43.6,94.3 L43.7,95.0 L43.8,91.5 L43.9,94.8 L44.0,94.4 L44.1,97.5 L44.2,92.4 L44.3,94.6 L44.4,90.4 L44.5,93.1 L44.6,91.1 L44.7,91.0 L44.9,91.2 L45.0,93.2 L45.1,92.0 L45.2,91.9 L45.3,92.9 L45.4,94.2 L45.5,94.1 L45.6,93.3 L45.7,90.8 L45.8,92.8 L45.9,91.9 L46.0,92.2 L46.1,93.8 L46.2,92.0 L46.3,92.9 L46.4,92.5 L46.5,91.8 L46.7,91.9 L46.8,94.8 L46.9,90.3 L47.0,95.6 L47.1,92.3 L47.2,91.5 L47.3,90.6 L47.4,91.4 L47.5,90.6 L47.6,92.9 L47.7,95.5 L47.8,90.6 L47.9,92.8 L48.0,96.4 L48.1,94.3 L48.2,92.3 L48.4,95.9 L48.5,94.3 L48.6,97.1 L48.7,94.3 L48.8,92.0 L48.9,90.7 L49.0,89.7 L49.1,93.6 L49.2,92.3 L49.3,95.0 L49.4,92.6 L49.5,91.9 L49.6,94.1 L49.7,94.2 L49.8,96.6 L49.9,93.3 L50.0,93.5 L50.2,97.0 L50.3,93.3 L50.4,95.1 L50.5,95.9 L50.6,92.9 L50.7,95.1 L50.8,91.8 L50.9,96.2 L51.0,95.1 L51.1,94.9 L51.2,99.5 L51.3,93.5 L51.4,95.5 L51.5,95.6 L51.6,94.7 L51.7,93.8 L51.8,95.2 L52.0,96.3 L52.1,94.0 L52.2,94.8 L52.3,93.9 L52.4,95.0 L52.5,99.4 L52.6,96.9 L52.7,97.8 L52.8,98.7 L52.9,97.0 L53.0,94.4 L53.1,97.7 L53.2,96.9 L53.3,94.6 L53.4,99.9 L53.5,95.8 L53.7,96.1 L53.8,99.9 L53.9,96.9 L54.0,99.1 L54.1,100.2 L54.2,93.7 L54.3,99.6 L54.4,100.0 L54.5,97.4 L54.6,95.5 L54.7,97.4 L54.8,95.1 L54.9,92.8 L55.0,94.2 L55.1,92.7 L55.2,96.1 L55.3,93.7 L55.5,91.5 L55.6,95.2 L55.7,95.1 L55.8,94.7 L55.9,90.7 L56.0,94.5 L56.1,95.1 L56.2,94.4 L56.3,96.8 L56.4,96.7 L56.5,96.1 L56.6,92.5 L56.7,94.2 L56.8,94.0 L56.9,93.2 L57.0,94.3 L57.1,95.6 L57.3,93.4 L57.4,94.5 L57.5,94.9 L57.6,95.5 L57.7,95.0 L57.8,93.3 L57.9,94.6 L58.0,96.1 L58.1,92.4 L58.2,97.8 L58.3,93.8 L58.4,97.3 L58.5,93.4 L58.6,93.0 L58.7,95.8 L58.8,93.8 L59.0,92.7 L59.1,96.8 L59.2,98.5 L59.3,93.0 L59.4,97.0 L59.5,95.6 L59.6,93.6 L59.7,97.3 L59.8,95.4 L59.9,94.3 L60.0,97.5 L60.1,95.2 L60.2,95.3 L60.3,96.2 L60.4,97.1 L60.5,95.8 L60.6,95.8 L60.8,93.7 L60.9,96.1 L61.0,93.0 L61.1,95.2 L61.2,92.2 L61.3,92.3 L61.4,95.3 L61.5,92.8 L61.6,93.4 L61.7,94.2 L61.8,93.5 L61.9,95.3 L62.0,97.3 L62.1,96.3 L62.2,94.7 L62.3,92.8 L62.4,96.3 L62.6,92.5 L62.7,92.1 L62.8,97.1 L62.9,97.0 L63.0,93.3 L63.1,94.6 L63.2,98.4 L63.3,92.7 L63.4,94.1 L63.5,97.9 L63.6,96.8 L63.7,95.3 L63.8,96.0 L63.9,94.6 L64.0,95.1 L64.1,95.2 L64.3,95.7 L64.4,95.6 L64.5,94.6 L64.6,95.6 L64.7,93.0 L64.8,94.3 L64.9,98.1 L65.0,93.9 L65.1,93.2 L65.2,90.4 L65.3,93.5 L65.4,95.8 L65.5,96.8 L65.6,95.7 L65.7,94.6 L65.8,93.9 L65.9,96.8 L66.1,97.2 L66.2,94.4 L66.3,97.6 L66.4,97.5 L66.5,95.4 L66.6,95.5 L66.7,95.8 L66.8,95.3 L66.9,99.2 L67.0,95.3 L67.1,95.0 L67.2,93.4 L67.3,95.1 L67.4,93.3 L67.5,93.5 L67.6,96.4 L67.7,96.9 L67.9,92.0 L68.0,92.0 L68.1,91.9 L68.2,92.0 L68.3,93.6 L68.4,92.4 L68.5,93.9 L68.6,93.0 L68.7,93.6 L68.8,95.7 L68.9,94.9 L69.0,92.4 L69.1,90.6 L69.2,93.7 L69.3,93.0 L69.4,93.7 L69.6,96.0 L69.7,93.5 L69.8,93.1 L69.9,93.3 L70.0,94.0 L70.1,92.9 L70.2,94.0 L70.3,93.3 L70.4,93.1 L70.5,94.1 L70.6,93.7 L70.7,94.6 L70.8,95.8 L70.9,93.9 L71.0,95.3 L71.1,93.4 L71.2,94.5 L71.4,95.2 L71.5,97.0 L71.6,97.6 L71.7,92.2 L71.8,96.4 L71.9,94.9 L72.0,94.6 L72.1,95.0 L72.2,95.1 L72.3,94.4 L72.4,92.0 L72.5,92.2 L72.6,93.0 L72.7,92.3 L72.8,93.0 L72.9,92.4 L73.0,94.5 L73.2,90.7 L73.3,90.4 L73.4,91.9 L73.5,93.9 L73.6,93.7 L73.7,91.5 L73.8,89.8 L73.9,92.2 L74.0,91.3 L74.1,90.3 L74.2,94.2 L74.3,91.1 L74.4,90.5 L74.5,93.2 L74.6,94.4 L74.7,96.3 L74.9,93.7 L75.0,94.6 L75.1,91.8 L75.2,92.2 L75.3,93.1 L75.4,93.2 L75.5,93.5 L75.6,93.2 L75.7,90.1 L75.8,94.9 L75.9,91.2 L76.0,93.7 L76.1,92.1 L76.2,95.8 L76.3,91.8 L76.4,94.6 L76.5,94.2 L76.7,95.9 L76.8,94.4 L76.9,95.3 L77.0,94.0 L77.1,92.1 L77.2,93.5 L77.3,96.7 L77.4,97.5 L77.5,93.9 L77.6,95.5 L77.7,91.0 L77.8,92.7 L77.9,91.9 L78.0,90.0 L78.1,90.8 L78.2,92.7 L78.3,93.7 L78.5,90.5 L78.6,92.3 L78.7,91.8 L78.8,92.9 L78.9,90.7 L79.0,92.5 L79.1,91.9 L79.2,89.9 L79.3,92.0 L79.4,90.8 L79.5,90.5 L79.6,93.2 L79.7,91.2 L79.8,90.9 L79.9,90.5 L80.0,92.1 L80.2,91.4 L80.3,91.9 L80.4,89.8 L80.5,94.1 L80.6,93.1 L80.7,92.1 L80.8,91.0 L80.9,90.0 L81.0,89.7 L81.1,92.6 L81.2,90.7 L81.3,87.9 L81.4,94.0 L81.5,90.2 L81.6,92.6 L81.7,91.2 L81.8,90.9 L82.0,88.7 L82.1,90.4 L82.2,88.7 L82.3,90.0 L82.4,90.0 L82.5,88.6 L82.6,88.1 L82.7,89.7 L82.8,94.1 L82.9,88.6 L83.0,94.1 L83.1,93.4 L83.2,91.8 L83.3,92.0 L83.4,88.6 L83.5,89.3 L83.6,89.8 L83.8,90.5 L83.9,94.3 L84.0,94.3 L84.1,91.9 L84.2,91.5 L84.3,92.2 L84.4,93.7 L84.5,91.3 L84.6,91.1 L84.7,91.0 L84.8,92.7 L84.9,90.8 L85.0,90.0 L85.1,89.5 L85.2,93.9 L85.3,90.6 L85.5,89.8 L85.6,89.1 L85.7,92.0 L85.8,92.0 L85.9,91.5 L86.0,91.3 L86.1,91.9 L86.2,92.3 L86.3,90.9 L86.4,89.4 L86.5,90.7 L86.6,91.8 L86.7,87.0 L86.8,91.6 L86.9,91.4 L87.0,90.3 L87.1,90.7 L87.3,89.9 L87.4,92.5 L87.5,90.1 L87.6,90.7 L87.7,92.2 L87.8,86.9 L87.9,89.7 L88.0,88.6 L88.1,88.7 L88.2,90.3 L88.3,89.1 L88.4,85.4 L88.5,88.8 L88.6,89.3 L88.7,88.8 L88.8,90.0 L88.9,90.4 L89.1,92.3 L89.2,87.7 L89.3,90.4 L89.4,89.1 L89.5,88.8 L89.6,90.3 L89.7,91.1 L89.8,89.3 L89.9,90.2 L90.0,88.7 L90.1,92.2 L90.2,92.4 L90.3,90.1 L90.4,89.7 L90.5,89.7 L90.6,91.0 L90.8,89.7 L90.9,85.9 L91.0,88.0 L91.1,89.9 L91.2,88.2 L91.3,87.9 L91.4,90.7 L91.5,88.3 L91.6,86.8 L91.7,90.2 L91.8,91.2 L91.9,88.3 L92.0,87.1 L92.1,84.6 L92.2,86.6 L92.3,84.9 L92.4,90.2 L92.6,88.8 L92.7,92.2 L92.8,89.3 L92.9,87.5 L93.0,89.9 L93.1,89.8 L93.2,87.5 L93.3,89.3 L93.4,87.6 L93.5,86.7 L93.6,89.5 L93.7,85.2 L93.8,85.5 L93.9,87.6 L94.0,87.6 L94.1,87.5 L94.2,88.0 L94.4,88.2 L94.5,85.3 L94.6,85.9 L94.7,85.8 L94.8,89.8 L94.9,85.9 L95.0,87.0 L95.1,90.7 L95.2,91.6 L95.3,88.2 L95.4,88.6 L95.5,89.4 L95.6,85.3 L95.7,88.5 L95.8,86.7 L95.9,89.9 L96.1,87.3 L96.2,86.3 L96.3,89.4 L96.4,85.9 L96.5,88.0 L96.6,87.1 L96.7,86.7 L96.8,89.2 L96.9,84.7 L97.0,90.1 L97.1,84.7 L97.2,86.6 L97.3,87.2 L97.4,87.9 L97.5,85.6 L97.6,81.9 L97.7,82.6 L97.9,85.4 L98.0,89.8 L98.1,87.7 L98.2,88.0 L98.3,89.1 L98.4,85.7 L98.5,86.4 L98.6,85.9 L98.7,84.6 L98.8,85.5 L98.9,89.8 L99.0,88.5 L99.1,86.4 L99.2,84.3 L99.3,85.6 L99.4,85.9 L99.5,86.3 L99.7,84.4 L99.8,87.2 L99.9,86.2 L100.0,88.0 L100.1,89.3 L100.2,88.3 L100.3,86.4 L100.4,89.5 L100.5,86.6 L100.6,88.3 L100.7,86.8 L100.8,84.2 L100.9,87.4 L101.0,88.8 L101.1,84.1 L101.2,86.0 L101.4,86.5 L101.5,88.9 L101.6,84.5 L101.7,88.5 L101.8,88.3 L101.9,84.4 L102.0,87.8 L102.1,87.6 L102.2,84.6 L102.3,87.3 L102.4,85.0 L102.5,83.3 L102.6,85.6 L102.7,85.7 L102.8,87.3 L102.9,85.3 L103.0,87.5 L103.2,90.8 L103.3,86.6 L103.4,87.9 L103.5,86.5 L103.6,91.9 L103.7,89.9 L103.8,87.2 L103.9,89.9 L104.0,90.2 L104.1,89.5 L104.2,86.1 L104.3,87.7 L104.4,88.4 L104.5,93.1 L104.6,89.1 L104.7,88.1 L104.8,89.2 L105.0,88.0 L105.1,88.6 L105.2,89.3 L105.3,90.1 L105.4,89.2 L105.5,86.0 L105.6,85.7 L105.7,85.7 L105.8,88.5 L105.9,87.9 L106.0,86.4 L106.1,87.8 L106.2,89.7 L106.3,88.4 L106.4,87.0 L106.5,86.1 L106.7,86.0 L106.8,88.3 L106.9,85.2 L107.0,88.5 L107.1,85.5 L107.2,85.9 L107.3,86.6 L107.4,87.5 L107.5,86.5 L107.6,85.5 L107.7,85.3 L107.8,86.6 L107.9,86.8 L108.0,88.2 L108.1,85.7 L108.2,83.9 L108.3,83.7 L108.5,84.3 L108.6,84.2 L108.7,84.3 L108.8,83.6 L108.9,84.8 L109.0,86.5 L109.1,84.7 L109.2,83.0 L109.3,87.8 L109.4,86.3 L109.5,85.0 L109.6,85.7 L109.7,85.8 L109.8,86.7 L109.9,87.3 L110.0,85.1 L110.1,87.0 L110.3,86.6 L110.4,88.7 L110.5,85.3 L110.6,84.8 L110.7,87.8 L110.8,86.8 L110.9,87.3 L111.0,86.9 L111.1,84.8 L111.2,82.1 L111.3,83.7 L111.4,87.1 L111.5,86.4 L111.6,87.0 L111.7,86.6 L111.8,86.5 L112.0,86.1 L112.1,87.0 L112.2,85.4 L112.3,86.0 L112.4,83.8 L112.5,86.2 L112.6,83.8 L112.7,81.8 L112.8,87.1 L112.9,84.3 L113.0,85.8 L113.1,84.3 L113.2,89.0 L113.3,87.7 L113.4,86.8 L113.5,89.3 L113.6,85.3 L113.8,82.8 L113.9,86.3 L114.0,85.2 L114.1,88.7 L114.2,86.2 L114.3,84.8 L114.4,85.1 L114.5,85.0 L114.6,86.8 L114.7,85.8 L114.8,91.4 L114.9,88.5 L115.0,86.8 L115.1,87.0 L115.2,85.7 L115.3,88.1 L115.4,84.0 L115.6,85.1 L115.7,86.2 L115.8,88.1 L115.9,88.3 L116.0,85.7 L116.1,88.5 L116.2,86.5 L116.3,86.9 L116.4,86.7 L116.5,87.2 L116.6,85.1 L116.7,88.4 L116.8,84.0 L116.9,84.0 L117.0,84.1 L117.1,87.6 L117.3,85.3 L117.4,83.9 L117.5,84.9 L117.6,85.2 L117.7,85.5 L117.8,86.7 L117.9,85.9 L118.0,83.9 L118.1,84.5 L118.2,86.2 L118.3,88.5 L118.4,86.8 L118.5,86.6 L118.6,87.4 L118.7,80.9 L118.8,84.3 L118.9,85.7 L119.1,86.7 L119.2,86.2 L119.3,86.6 L119.4,86.3 L119.5,88.7 L119.6,84.3 L119.7,89.4 L119.8,86.8 L119.9,85.3 L120.0,89.0 L120.1,89.9 L120.2,88.2 L120.3,87.7 L120.4,86.8 L120.5,83.0 L120.6,85.9 L120.7,85.5 L120.9,85.7 L121.0,87.3 L121.1,85.2 L121.2,84.3 L121.3,86.5 L121.4,85.7 L121.5,84.4 L121.6,90.3 L121.7,87.8 L121.8,86.1 L121.9,89.7 L122.0,85.5 L122.1,83.9 L122.2,86.4 L122.3,87.1 L122.4,85.7 L122.6,83.1 L122.7,86.2 L122.8,86.5 L122.9,85.5 L123.0,84.5 L123.1,86.6 L123.2,85.7 L123.3,84.0 L123.4,84.1 L123.5,83.1 L123.6,86.4 L123.7,82.9 L123.8,82.3 L123.9,83.4 L124.0,86.2 L124.1,84.8 L124.2,82.4 L124.4,87.3 L124.5,84.6 L124.6,85.5 L124.7,83.8 L124.8,83.6 L124.9,83.9 L125.0,82.8 L125.1,83.8 L125.2,84.7 L125.3,85.6 L125.4,82.3 L125.5,81.2 L125.6,84.4 L125.7,84.9 L125.8,81.9 L125.9,84.8 L126.0,82.2 L126.2,85.0 L126.3,84.5 L126.4,83.8 L126.5,82.7 L126.6,83.4 L126.7,85.7 L126.8,80.6 L126.9,80.8 L127.0,84.1 L127.1,86.8 L127.2,81.7 L127.3,83.2 L127.4,82.4 L127.5,85.1 L127.6,84.7 L127.7,84.9 L127.9,86.2 L128.0,84.5 L128.1,84.8 L128.2,84.4 L128.3,85.3 L128.4,85.2 L128.5,82.3 L128.6,84.1 L128.7,84.9 L128.8,83.0 L128.9,82.1 L129.0,85.5 L129.1,85.9 L129.2,87.9 L129.3,85.0 L129.4,85.5 L129.5,88.3 L129.7,83.2 L129.8,82.4 L129.9,83.6 L130.0,80.7 L130.1,84.3 L130.2,86.8 L130.3,84.2 L130.4,85.6 L130.5,84.0 L130.6,84.7 L130.7,88.3 L130.8,86.4 L130.9,86.2 L131.0,84.6 L131.1,83.3 L131.2,82.4 L131.3,84.3 L131.5,84.2 L131.6,84.8 L131.7,85.3 L131.8,83.5 L131.9,83.4 L132.0,84.5 L132.1,84.7 L132.2,82.7 L132.3,84.0 L132.4,81.1 L132.5,83.3 L132.6,84.2 L132.7,83.2 L132.8,79.8 L132.9,82.5 L133.0,84.6 L133.2,82.3 L133.3,84.4 L133.4,83.3 L133.5,84.0 L133.6,82.6 L133.7,85.0 L133.8,80.8 L133.9,83.6 L134.0,84.2 L134.1,82.3 L134.2,80.9 L134.3,78.6 L134.4,84.4 L134.5,82.7 L134.6,83.3 L134.7,81.8 L134.8,81.1 L135.0,82.6 L135.1,80.5 L135.2,82.8 L135.3,80.9 L135.4,84.4 L135.5,80.7 L135.6,87.3 L135.7,85.6 L135.8,83.1 L135.9,83.0 L136.0,87.1 L136.1,86.0 L136.2,84.8 L136.3,86.6 L136.4,83.6 L136.5,87.0 L136.7,83.0 L136.8,82.4 L136.9,83.9 L137.0,86.2 L137.1,85.3 L137.2,86.6 L137.3,86.5 L137.4,88.0 L137.5,81.2 L137.6,84.7 L137.7,84.8 L137.8,85.2 L137.9,83.9 L138.0,84.1 L138.1,87.7 L138.2,81.9 L138.3,84.2 L138.5,84.2 L138.6,86.9 L138.7,84.9 L138.8,85.5 L138.9,82.4 L139.0,86.2 L139.1,84.5 L139.2,85.2 L139.3,85.1 L139.4,84.7 L139.5,86.2 L139.6,84.0 L139.7,83.1 L139.8,82.8 L139.9,82.7 L140.0,83.5 L140.1,82.6 L140.3,83.2 L140.4,83.1 L140.5,81.4 L140.6,82.1 L140.7,82.1 L140.8,85.2 L140.9,86.9 L141.0,84.2 L141.1,83.6 L141.2,83.5 L141.3,83.2 L141.4,84.3 L141.5,87.4 L141.6,82.0 L141.7,81.9 L141.8,82.1 L142.0,80.4 L142.1,80.0 L142.2,81.6 L142.3,80.7 L142.4,82.1 L142.5,84.8 L142.6,84.2 L142.7,85.1 L142.8,85.1 L142.9,83.8 L143.0,82.8 L143.1,82.5 L143.2,85.0 L143.3,84.3 L143.4,82.6 L143.5,81.5 L143.6,79.5 L143.8,86.0 L143.9,84.5 L144.0,82.0 L144.1,82.8 L144.2,81.9 L144.3,80.4 L144.4,83.8 L144.5,82.5 L144.6,81.3 L144.7,80.2 L144.8,80.1 L144.9,80.5 L145.0,82.8 L145.1,81.2 L145.2,82.0 L145.3,79.9 L145.4,80.8 L145.6,82.4 L145.7,84.1 L145.8,87.1 L145.9,81.0 L146.0,85.1 L146.1,85.0 L146.2,82.6 L146.3,81.4 L146.4,83.7 L146.5,84.1 L146.6,84.2 L146.7,83.0 L146.8,83.3 L146.9,82.5 L147.0,85.5 L147.1,82.2 L147.3,85.5 L147.4,84.7 L147.5,83.3 L147.6,83.6 L147.7,85.9 L147.8,88.0 L147.9,84.6 L148.0,86.2 L148.1,85.4 L148.2,85.7 L148.3,84.5 L148.4,83.3 L148.5,85.1 L148.6,85.0 L148.7,87.7 L148.8,86.0 L148.9,87.1 L149.1,88.7 L149.2,86.3 L149.3,87.2 L149.4,87.3 L149.5,88.4 L149.6,86.1 L149.7,87.1 L149.8,85.2 L149.9,89.5 L150.0,84.8 L150.1,86.8 L150.2,85.2 L150.3,86.2 L150.4,86.1 L150.5,84.7 L150.6,85.6 L150.7,87.9 L150.9,86.1 L151.0,86.9 L151.1,89.0 L151.2,86.0 L151.3,85.3 L151.4,83.8 L151.5,83.9 L151.6,88.7 L151.7,89.8 L151.8,90.9 L151.9,88.9 L152.0,90.2 L152.1,85.1 L152.2,88.0 L152.3,86.7 L152.4,87.1 L152.6,87.0 L152.7,85.9 L152.8,84.7 L152.9,85.2 L153.0,84.3 L153.1,87.3 L153.2,87.1 L153.3,86.5 L153.4,84.7 L153.5,87.8 L153.6,86.0 L153.7,86.6 L153.8,87.1 L153.9,86.3 L154.0,87.7 L154.1,87.1 L154.2,86.8 L154.4,87.9 L154.5,84.9 L154.6,88.5 L154.7,85.8 L154.8,86.5 L154.9,84.5 L155.0,85.5 L155.1,86.8 L155.2,84.9 L155.3,87.1 L155.4,87.5 L155.5,86.4 L155.6,85.6 L155.7,86.6 L155.8,83.5 L155.9,80.8 L156.0,83.7 L156.2,86.7 L156.3,87.0 L156.4,85.9 L156.5,84.6 L156.6,85.7 L156.7,83.7 L156.8,85.9 L156.9,84.1 L157.0,84.2 L157.1,82.8 L157.2,85.2 L157.3,81.1 L157.4,84.9 L157.5,83.9 L157.6,85.1 L157.7,85.4 L157.9,85.9 L158.0,85.6 L158.1,84.4 L158.2,86.5 L158.3,85.5 L158.4,85.3 L158.5,86.7 L158.6,89.2 L158.7,87.5 L158.8,84.9 L158.9,84.9 L159.0,85.7 L159.1,85.6 L159.2,88.2 L159.3,85.0 L159.4,86.4 L159.5,88.2 L159.7,86.8 L159.8,87.0 L159.9,86.7 L160.0,84.2 L160.1,86.3 L160.2,87.5 L160.3,83.5 L160.4,84.9 L160.5,82.5 L160.6,85.7 L160.7,85.8 L160.8,85.1 L160.9,82.3 L161.0,82.1 L161.1,82.6 L161.2,84.0 L161.3,84.0 L161.5,83.7 L161.6,87.1 L161.7,85.5 L161.8,86.5 L161.9,84.5 L162.0,83.0 L162.1,85.8 L162.2,90.3 L162.3,86.3 L162.4,86.4 L162.5,85.5 L162.6,82.3 L162.7,84.5 L162.8,86.8 L162.9,82.4 L163.0,83.3 L163.2,81.0 L163.3,83.4 L163.4,84.8 L163.5,82.5 L163.6,85.7 L163.7,85.2 L163.8,84.4 L163.9,86.3 L164.0,79.7 L164.1,86.9 L164.2,87.5 L164.3,83.7 L164.4,82.9 L164.5,83.9 L164.6,85.1 L164.7,83.3 L164.8,86.5 L165.0,83.8 L165.1,83.1 L165.2,84.4 L165.3,86.0 L165.4,84.6 L165.5,86.0 L165.6,83.1 L165.7,83.6 L165.8,85.0 L165.9,83.9 L166.0,84.5 L166.1,81.2 L166.2,82.2 L166.3,87.2 L166.4,84.8 L166.5,83.0 L166.6,84.6 L166.8,84.2 L166.9,85.6 L167.0,86.1 L167.1,84.6 L167.2,88.0 L167.3,87.6 L167.4,80.8 L167.5,85.2 L167.6,83.4 L167.7,84.7 L167.8,83.3 L167.9,85.1 L168.0,86.2 L168.1,84.3 L168.2,85.5 L168.3,85.0 L168.5,86.5 L168.6,84.4 L168.7,88.6 L168.8,87.8 L168.9,88.0 L169.0,86.6 L169.1,84.8 L169.2,85.2 L169.3,86.7 L169.4,85.1 L169.5,87.5 L169.6,88.0 L169.7,88.4 L169.8,89.4 L169.9,88.4 L170.0,85.8 L170.1,89.6 L170.3,86.6 L170.4,86.3 L170.5,85.3 L170.6,87.1 L170.7,88.0 L170.8,86.7 L170.9,88.7 L171.0,86.8 L171.1,87.3 L171.2,88.7 L171.3,88.0 L171.4,88.8 L171.5,85.4 L171.6,90.1 L171.7,89.7 L171.8,90.0 L171.9,89.2 L172.1,86.6 L172.2,86.5 L172.3,87.1 L172.4,88.4 L172.5,91.8 L172.6,86.4 L172.7,87.2 L172.8,85.9 L172.9,84.9 L173.0,83.9 L173.1,85.9 L173.2,84.9 L173.3,87.6 L173.4,84.7 L173.5,87.3 L173.6,85.2 L173.8,84.7 L173.9,84.3 L174.0,82.6 L174.1,84.3 L174.2,86.1 L174.3,87.1 L174.4,88.1 L174.5,85.8 L174.6,87.6 L174.7,83.7 L174.8,84.4 L174.9,85.7 L175.0,84.2 L175.1,86.0 L175.2,85.3 L175.3,84.5 L175.4,84.8 L175.6,83.1 L175.7,84.6 L175.8,86.7 L175.9,82.9 L176.0,85.4 L176.1,84.2 L176.2,85.5 L176.3,83.7 L176.4,84.7 L176.5,83.3 L176.6,85.4 L176.7,86.3 L176.8,85.0 L176.9,87.4 L177.0,88.2 L177.1,86.4 L177.2,86.1 L177.4,85.5 L177.5,84.9 L177.6,85.8 L177.7,83.3 L177.8,85.2 L177.9,85.0 L178.0,83.4 L178.1,85.7 L178.2,84.8 L178.3,87.9 L178.4,87.7 L178.5,84.7 L178.6,86.2 L178.7,84.9 L178.8,84.8 L178.9,85.6 L179.1,86.2 L179.2,84.8 L179.3,86.6 L179.4,85.7 L179.5,84.8 L179.6,85.8 L179.7,86.0 L179.8,83.8 L179.9,83.1 L180.0,84.5 L180.1,85.0 L180.2,81.9 L180.3,85.9 L180.4,84.1 L180.5,82.5 L180.6,84.5 L180.7,81.0 L180.9,80.4 L181.0,84.5 L181.1,84.0 L181.2,84.1 L181.3,86.7 L181.4,79.9 L181.5,83.3 L181.6,87.2 L181.7,89.3 L181.8,87.5 L181.9,84.6 L182.0,83.1 L182.1,84.8 L182.2,85.2 L182.3,84.4 L182.4,86.3 L182.5,88.4 L182.7,89.4 L182.8,86.7 L182.9,88.4 L183.0,87.7 L183.1,85.9 L183.2,87.8 L183.3,86.5 L183.4,92.1 L183.5,88.0 L183.6,85.2 L183.7,85.8 L183.8,86.0 L183.9,86.9 L184.0,86.7 L184.1,86.0 L184.2,88.5 L184.4,86.7 L184.5,86.4 L184.6,85.6 L184.7,83.5 L184.8,87.2 L184.9,86.9 L185.0,82.4 L185.1,87.2 L185.2,85.4 L185.3,87.6 L185.4,87.7 L185.5,84.7 L185.6,87.3 L185.7,85.4 L185.8,86.4 L185.9,82.9 L186.0,86.4 L186.2,84.9 L186.3,87.3 L186.4,87.5 L186.5,84.2 L186.6,86.8 L186.7,87.7 L186.8,84.8 L186.9,87.2 L187.0,86.3 L187.1,89.0 L187.2,87.9 L187.3,86.6 L187.4,88.5 L187.5,88.6 L187.6,84.7 L187.7,85.3 L187.8,89.4 L188.0,84.2 L188.1,87.2 L188.2,87.7 L188.3,88.4 L188.4,86.4 L188.5,85.3 L188.6,86.4 L188.7,85.3 L188.8,88.7 L188.9,85.6 L189.0,87.0 L189.1,86.8 L189.2,85.8 L189.3,85.2 L189.4,86.7 L189.5,85.2 L189.7,86.0 L189.8,84.2 L189.9,86.3 L190.0,83.6 L190.1,88.3 L190.2,85.6 L190.3,87.0 L190.4,87.0 L190.5,91.2 L190.6,89.5 L190.7,84.5 L190.8,87.6 L190.9,85.3 L191.0,84.8 L191.1,87.2 L191.2,87.0 L191.3,86.3 L191.5,85.4 L191.6,86.5 L191.7,85.0 L191.8,87.1 L191.9,82.6 L192.0,84.4 L192.1,87.6 L192.2,85.1 L192.3,84.4 L192.4,86.0 L192.5,88.8 L192.6,87.5 L192.7,86.1 L192.8,84.3 L192.9,85.9 L193.0,84.0 L193.1,87.5 L193.3,86.2 L193.4,85.6 L193.5,83.8 L193.6,87.7 L193.7,87.8 L193.8,85.6 L193.9,85.0 L194.0,86.6 L194.1,87.1 L194.2,86.1 L194.3,85.5 L194.4,88.6 L194.5,86.7 L194.6,82.4 L194.7,83.9 L194.8,86.3 L195.0,83.7 L195.1,87.2 L195.2,86.4 L195.3,85.2 L195.4,86.5 L195.5,84.6 L195.6,86.0 L195.7,83.7 L195.8,86.1 L195.9,85.8 L196.0,81.9 L196.1,86.2 L196.2,86.3 L196.3,84.1 L196.4,85.1 L196.5,83.2 L196.6,83.0 L196.8,83.6 L196.9,84.5 L197.0,84.0 L197.1,85.7 L197.2,84.1 L197.3,83.5 L197.4,85.5 L197.5,85.0 L197.6,84.0 L197.7,87.8 L197.8,85.0 L197.9,87.4 L198.0,85.7 L198.1,87.4 L198.2,86.1 L198.3,87.5 L198.4,84.9 L198.6,83.7 L198.7,85.4 L198.8,84.9 L198.9,86.1 L199.0,88.5 L199.1,83.6 L199.2,83.6 L199.3,85.2 L199.4,88.7 L199.5,87.2 L199.6,87.8 L199.7,85.3 L199.8,90.3 L199.9,90.5 L200.0,89.9 L200.1,88.3 L200.3,89.3 L200.4,91.5 L200.5,91.0 L200.6,88.6 L200.7,87.5 L200.8,89.2 L200.9,87.8 L201.0,90.6 L201.1,91.9 L201.2,92.8 L201.3,90.3 L201.4,94.3 L201.5,92.3 L201.6,90.9 L201.7,91.1 L201.8,92.2 L201.9,90.4 L202.1,93.2 L202.2,91.3 L202.3,93.1 L202.4,91.0 L202.5,89.2 L202.6,90.6 L202.7,92.1 L202.8,90.3 L202.9,92.7 L203.0,92.7 L203.1,92.3 L203.2,92.2 L203.3,91.3 L203.4,92.1 L203.5,91.9 L203.6,94.1 L203.7,91.8 L203.9,92.9 L204.0,92.8 L204.1,92.5 L204.2,94.1 L204.3,91.9 L204.4,91.5 L204.5,90.6 L204.6,91.2 L204.7,93.5 L204.8,89.6 L204.9,91.7 L205.0,93.8 L205.1,90.8 L205.2,92.2 L205.3,94.0 L205.4,94.6 L205.6,93.9 L205.7,89.6 L205.8,90.9 L205.9,89.2 L206.0,90.0 L206.1,88.6 L206.2,93.1 L206.3,90.3 L206.4,93.0 L206.5,91.9 L206.6,88.3 L206.7,93.3 L206.8,89.5 L206.9,90.2 L207.0,91.6 L207.1,89.9 L207.2,90.9 L207.4,88.5 L207.5,90.5 L207.6,90.0 L207.7,88.8 L207.8,90.2 L207.9,88.3 L208.0,89.5 L208.1,88.2 L208.2,90.3 L208.3,88.3 L208.4,85.8 L208.5,88.4 L208.6,88.4 L208.7,89.5 L208.8,89.8 L208.9,87.6 L209.0,89.6 L209.2,88.6 L209.3,86.3 L209.4,87.4 L209.5,86.6 L209.6,82.7 L209.7,86.6 L209.8,88.1 L209.9,86.2 L210.0,88.1 L210.1,88.4 L210.2,87.5 L210.3,89.0 L210.4,87.7 L210.5,88.3 L210.6,85.7 L210.7,85.5 L210.9,86.2 L211.0,85.1 L211.1,88.5 L211.2,85.6 L211.3,82.6 L211.4,89.4 L211.5,87.5 L211.6,86.1 L211.7,86.3 L211.8,87.9 L211.9,85.3 L212.0,87.5 L212.1,87.3 L212.2,87.3 L212.3,88.9 L212.4,92.4 L212.5,89.3 L212.7,88.7 L212.8,86.4 L212.9,88.3 L213.0,85.4 L213.1,87.4 L213.2,87.1 L213.3,86.7 L213.4,84.8 L213.5,87.5 L213.6,83.6 L213.7,87.2 L213.8,88.6 L213.9,86.0 L214.0,84.3 L214.1,87.1 L214.2,85.6 L214.3,87.0 L214.5,86.1 L214.6,86.3 L214.7,87.3 L214.8,85.3 L214.9,87.2 L215.0,85.5 L215.1,86.5 L215.2,89.7 L215.3,90.3 L215.4,88.1 L215.5,91.1 L215.6,88.2 L215.7,88.7 L215.8,87.1 L215.9,87.1 L216.0,90.2 L216.2,89.4 L216.3,89.9 L216.4,88.9 L216.5,89.4 L216.6,86.6 L216.7,87.2 L216.8,86.4 L216.9,87.5 L217.0,86.5 L217.1,86.5 L217.2,89.2 L217.3,90.2 L217.4,88.8 L217.5,85.8 L217.6,87.9 L217.7,88.8 L217.8,86.5 L218.0,90.5 L218.1,86.9 L218.2,91.3 L218.3,89.3 L218.4,89.5 L218.5,90.9 L218.6,89.3 L218.7,90.5 L218.8,88.5 L218.9,87.4 L219.0,90.4 L219.1,86.0 L219.2,88.0 L219.3,86.6 L219.4,87.0 L219.5,88.1 L219.6,86.6 L219.8,86.6 L219.9,88.5 L220.0,86.5 L220.1,87.1 L220.2,88.0 L220.3,85.4 L220.4,89.0 L220.5,86.9 L220.6,89.1 L220.7,87.4 L220.8,83.6 L220.9,87.8 L221.0,85.2 L221.1,85.1 L221.2,84.7 L221.3,84.9 L221.5,87.0 L221.6,86.1 L221.7,83.0 L221.8,86.5 L221.9,89.3 L222.0,86.9 L222.1,85.9 L222.2,88.5 L222.3,88.3 L222.4,86.2 L222.5,87.2 L222.6,87.6 L222.7,89.0 L222.8,86.1 L222.9,86.3 L223.0,84.2 L223.1,86.6 L223.3,88.8 L223.4,87.9 L223.5,85.3 L223.6,86.8 L223.7,87.9 L223.8,86.6 L223.9,87.1 L224.0,86.2 L224.1,85.0 L224.2,88.5 L224.3,84.3 L224.4,85.2 L224.5,88.1 L224.6,86.5 L224.7,85.2 L224.8,89.4 L225.0,84.3 L225.1,86.6 L225.2,85.2 L225.3,86.0 L225.4,89.3 L225.5,89.7 L225.6,86.5 L225.7,89.4 L225.8,84.5 L225.9,86.9 L226.0,88.4 L226.1,88.1 L226.2,87.1 L226.3,87.9 L226.4,88.8 L226.5,87.4 L226.6,88.1 L226.8,88.4 L226.9,88.5 L227.0,90.7 L227.1,87.9 L227.2,87.5 L227.3,88.2 L227.4,90.7 L227.5,88.5 L227.6,90.7 L227.7,90.3 L227.8,89.1 L227.9,88.2 L228.0,86.3 L228.1,85.3 L228.2,88.2 L228.3,89.7 L228.4,88.4 L228.6,90.1 L228.7,90.4 L228.8,87.9 L228.9,88.1 L229.0,90.4 L229.1,89.6 L229.2,89.3 L229.3,87.8 L229.4,88.3 L229.5,90.8 L229.6,87.7 L229.7,88.4 L229.8,90.5 L229.9,92.0 L230.0,90.1 L230.1,88.6 L230.3,89.7 L230.4,91.4 L230.5,90.1 L230.6,89.7 L230.7,91.0 L230.8,89.0 L230.9,87.4 L231.0,90.5 L231.1,90.0 L231.2,90.5 L231.3,91.9 L231.4,92.4 L231.5,92.3 L231.6,90.2 L231.7,86.6 L231.8,88.4 L231.9,86.6 L232.1,88.3 L232.2,89.3 L232.3,87.9 L232.4,90.3 L232.5,90.7 L232.6,87.1 L232.7,89.2 L232.8,91.4 L232.9,93.1 L233.0,92.4 L233.1,89.6 L233.2,91.0 L233.3,91.0 L233.4,93.0 L233.5,91.9 L233.6,90.9 L233.7,92.0 L233.9,90.8 L234.0,88.3 L234.1,87.9 L234.2,88.7 L234.3,88.7 L234.4,87.8 L234.5,90.7 L234.6,90.5 L234.7,87.2 L234.8,85.1 L234.9,87.8 L235.0,88.5 L235.1,89.9 L235.2,86.7 L235.3,90.5 L235.4,87.0 L235.6,88.7 L235.7,89.7 L235.8,88.3 L235.9,89.3 L236.0,87.9 L236.1,87.0 L236.2,86.7 L236.3,85.9 L236.4,87.3 L236.5,86.6 L236.6,89.3 L236.7,89.0 L236.8,88.0 L236.9,88.9 L237.0,87.0 L237.1,85.5 L237.2,86.2 L237.4,88.8 L237.5,86.7 L237.6,87.6 L237.7,86.8 L237.8,85.5 L237.9,89.6 L238.0,88.0 L238.1,88.7 L238.2,88.8 L238.3,90.7 L238.4,86.7 L238.5,86.7 L238.6,87.1 L238.7,86.2 L238.8,86.1 L238.9,86.0 L239.0,84.5 L239.2,84.9 L239.3,83.6 L239.4,84.4 L239.5,85.2 L239.6,84.5 L239.7,85.6 L239.8,86.0 L239.9,87.5 L240.0,85.6 L240.1,84.6 L240.2,87.3 L240.3,84.9 L240.4,84.1 L240.5,86.1 L240.6,87.0 L240.7,85.1 L240.9,86.1 L241.0,84.2 L241.1,87.5 L241.2,85.0 L241.3,85.0 L241.4,85.3 L241.5,89.4 L241.6,88.0 L241.7,87.5 L241.8,88.6 L241.9,85.0 L242.0,88.4 L242.1,86.7 L242.2,90.3 L242.3,90.4 L242.4,86.7 L242.5,86.4 L242.7,86.7 L242.8,87.6 L242.9,87.0 L243.0,87.5 L243.1,89.4 L243.2,87.1 L243.3,87.7 L243.4,86.5 L243.5,87.3 L243.6,87.2 L243.7,87.1 L243.8,86.9 L243.9,88.0 L244.0,86.3 L244.1,89.3 L244.2,88.4 L244.3,86.5 L244.5,88.1 L244.6,85.6 L244.7,86.3 L244.8,88.0 L244.9,86.8 L245.0,84.8 L245.1,88.4 L245.2,85.7 L245.3,85.8 L245.4,87.2 L245.5,88.6 L245.6,86.7 L245.7,86.7 L245.8,87.6 L245.9,89.5 L246.0,88.2 L246.2,84.4 L246.3,86.5 L246.4,88.0 L246.5,86.7 L246.6,88.3 L246.7,86.1 L246.8,85.2 L246.9,86.5 L247.0,86.6 L247.1,85.2 L247.2,85.2 L247.3,86.5 L247.4,89.8 L247.5,86.2 L247.6,90.1 L247.7,86.5 L247.8,87.3 L248.0,88.7 L248.1,87.7 L248.2,86.2 L248.3,85.6 L248.4,86.2 L248.5,87.2 L248.6,85.6 L248.7,86.2 L248.8,86.4 L248.9,86.3 L249.0,84.5 L249.1,87.3 L249.2,85.1 L249.3,85.8 L249.4,88.3 L249.5,86.3 L249.6,84.4 L249.8,84.4 L249.9,85.3 L250.0,83.1 L250.1,84.5 L250.2,88.8 L250.3,85.9 L250.4,82.6 L250.5,83.8 L250.6,85.1 L250.7,85.0 L250.8,84.0 L250.9,85.6 L251.0,86.0 L251.1,84.2 L251.2,85.7 L251.3,84.8 L251.5,84.3 L251.6,88.7 L251.7,84.1 L251.8,85.5 L251.9,84.6 L252.0,84.2 L252.1,86.6 L252.2,85.6 L252.3,85.5 L252.4,84.6 L252.5,81.9 L252.6,82.6 L252.7,83.5 L252.8,82.8 L252.9,85.6 L253.0,87.5 L253.1,84.3 L253.3,84.2 L253.4,84.4 L253.5,85.4 L253.6,82.9 L253.7,84.0 L253.8,83.0 L253.9,84.7 L254.0,82.8 L254.1,82.9 L254.2,83.6 L254.3,82.9 L254.4,84.4 L254.5,83.7 L254.6,82.0 L254.7,83.0 L254.8,82.8 L254.9,84.9 L255.1,83.8 L255.2,83.7 L255.3,86.3 L255.4,83.6 L255.5,84.7 L255.6,84.8 L255.7,84.7 L255.8,86.8 L255.9,82.4 L256.0,81.5 L256.1,82.4 L256.2,85.8 L256.3,85.2 L256.4,82.6 L256.5,82.3 L256.6,83.3 L256.8,85.1 L256.9,84.9 L257.0,84.0 L257.1,81.6 L257.2,85.1 L257.3,83.5 L257.4,83.0 L257.5,82.0 L257.6,83.3 L257.7,82.0 L257.8,81.4 L257.9,79.6 L258.0,80.6 L258.1,83.0 L258.2,85.2 L258.3,82.3 L258.4,78.4 L258.6,80.9 L258.7,83.1 L258.8,79.9 L258.9,78.7 L259.0,79.7 L259.1,81.3 L259.2,77.5 L259.3,81.5 L259.4,82.1 L259.5,81.8 L259.6,80.5 L259.7,79.4 L259.8,80.6 L259.9,79.2 L260.0,82.1 L260.1,80.9 L260.2,84.2 L260.4,83.1 L260.5,83.1 L260.6,81.1 L260.7,79.6 L260.8,79.5 L260.9,82.1 L261.0,82.6 L261.1,81.5 L261.2,82.1 L261.3,79.7 L261.4,85.4 L261.5,82.6 L261.6,83.3 L261.7,81.9 L261.8,80.8 L261.9,81.5 L262.1,82.1 L262.2,81.2 L262.3,81.2 L262.4,83.2 L262.5,85.7 L262.6,81.7 L262.7,84.2 L262.8,76.5 L262.9,81.2 L263.0,82.5 L263.1,79.8 L263.2,80.6 L263.3,83.1 L263.4,82.8 L263.5,81.2 L263.6,85.1 L263.7,88.1 L263.9,83.8 L264.0,84.9 L264.1,84.5 L264.2,85.0 L264.3,83.4 L264.4,82.0 L264.5,85.6 L264.6,86.2 L264.7,84.8 L264.8,85.1 L264.9,89.0 L265.0,84.8 L265.1,84.1 L265.2,85.7 L265.3,88.9 L265.4,86.3 L265.5,85.5 L265.7,85.5 L265.8,88.4 L265.9,87.9 L266.0,85.5 L266.1,85.6 L266.2,88.1 L266.3,87.0 L266.4,87.6 L266.5,86.1 L266.6,85.5 L266.7,87.3 L266.8,85.6 L266.9,86.9 L267.0,88.0 L267.1,87.6 L267.2,88.4 L267.4,85.3 L267.5,86.3 L267.6,88.5 L267.7,86.1 L267.8,84.4 L267.9,86.1 L268.0,88.8 L268.1,89.4 L268.2,86.4 L268.3,90.4 L268.4,84.7 L268.5,90.3 L268.6,86.0 L268.7,86.5 L268.8,87.7 L268.9,88.1 L269.0,89.8 L269.2,89.3 L269.3,89.6 L269.4,90.5 L269.5,88.4 L269.6,88.4 L269.7,92.7 L269.8,86.5 L269.9,90.0 L270.0,91.7 L270.1,89.3 L270.2,88.5 L270.3,89.6 L270.4,88.1 L270.5,89.3 L270.6,90.5 L270.7,88.9 L270.8,89.7 L271.0,89.5 L271.1,89.0 L271.2,91.1 L271.3,89.3 L271.4,86.8 L271.5,87.5 L271.6,89.4 L271.7,88.8 L271.8,89.7 L271.9,89.3 L272.0,88.0 L272.1,91.1 L272.2,89.1 L272.3,87.5 L272.4,87.3 L272.5,88.5 L272.7,89.7 L272.8,88.3 L272.9,88.2 L273.0,87.5 L273.1,85.3 L273.2,88.0 L273.3,89.0 L273.4,87.9 L273.5,83.6 L273.6,84.4 L273.7,85.6 L273.8,88.9 L273.9,88.0 L274.0,89.0 L274.1,87.0 L274.2,87.4 L274.3,87.0 L274.5,86.1 L274.6,87.7 L274.7,88.7 L274.8,87.4 L274.9,87.0 L275.0,86.4 L275.1,89.4 L275.2,89.1 L275.3,88.1 L275.4,89.2 L275.5,85.3 L275.6,91.5 L275.7,87.9 L275.8,88.6 L275.9,88.7 L276.0,86.9 L276.1,89.3 L276.3,87.4 L276.4,89.9 L276.5,89.2 L276.6,87.5 L276.7,87.3 L276.8,87.9 L276.9,83.3 L277.0,82.4 L277.1,82.5 L277.2,83.3 L277.3,83.8 L277.4,85.9 L277.5,82.4 L277.6,83.8 L277.7,84.0 L277.8,84.4 L278.0,84.5 L278.1,87.6 L278.2,88.6 L278.3,85.3 L278.4,82.3 L278.5,84.8 L278.6,86.3 L278.7,82.1 L278.8,85.9 L278.9,82.5 L279.0,84.2 L279.1,85.3 L279.2,84.1 L279.3,84.9 L279.4,85.5 L279.5,83.8 L279.6,83.1 L279.8,81.7 L279.9,81.7 L280.0,82.1 L280.1,81.9 L280.2,86.9 L280.3,81.3 L280.4,85.3 L280.5,81.9 L280.6,84.2 L280.7,82.2 L280.8,83.7 L280.9,83.5 L281.0,84.2 L281.1,83.2 L281.2,82.9 L281.3,83.0 L281.4,84.6 L281.6,81.0 L281.7,82.0 L281.8,81.5 L281.9,86.0 L282.0,81.8 L282.1,84.9 L282.2,82.9 L282.3,83.3 L282.4,82.2 L282.5,82.0 L282.6,84.5 L282.7,82.8 L282.8,82.1 L282.9,84.8 L283.0,80.9 L283.1,84.4 L283.3,83.2 L283.4,84.3 L283.5,86.4 L283.6,83.0 L283.7,83.8 L283.8,85.9 L283.9,81.7 L284.0,82.3 L284.1,82.3 L284.2,83.1 L284.3,83.1 L284.4,83.8 L284.5,85.8 L284.6,82.6 L284.7,84.6 L284.8,85.7 L284.9,85.7 L285.1,83.6 L285.2,84.5 L285.3,87.8 L285.4,82.8 L285.5,84.5 L285.6,85.3 L285.7,83.3 L285.8,85.1 L285.9,87.3 L286.0,88.3 L286.1,84.4 L286.2,81.9 L286.3,85.7 L286.4,82.3 L286.5,85.6 L286.6,86.1 L286.7,87.0 L286.9,85.7 L287.0,85.6 L287.1,86.1 L287.2,85.0 L287.3,87.2 L287.4,88.4 L287.5,83.4 L287.6,83.9 L287.7,82.4 L287.8,85.2 L287.9,84.8 L288.0,82.3 L288.1,84.2 L288.2,80.9 L288.3,85.1 L288.4,83.4 L288.6,81.5 L288.7,81.8 L288.8,81.5 L288.9,83.4 L289.0,82.8 L289.1,83.8 L289.2,85.8 L289.3,81.3 L289.4,82.9 L289.5,82.6 L289.6,79.4 L289.7,84.4 L289.8,82.4 L289.9,83.5 L290.0,82.1 L290.1,85.5 L290.2,81.9 L290.4,82.0 L290.5,79.6 L290.6,83.9 L290.7,80.7 L290.8,79.7 L290.9,85.0 L291.0,83.8 L291.1,80.8 L291.2,81.1 L291.3,79.4 L291.4,81.4 L291.5,80.6 L291.6,83.2 L291.7,82.4 L291.8,81.3 L291.9,78.4 L292.0,81.5 L292.2,80.4 L292.3,80.3 L292.4,78.5 L292.5,82.0 L292.6,81.5 L292.7,80.8 L292.8,81.9 L292.9,79.1 L293.0,79.6 L293.1,81.6 L293.2,80.6 L293.3,80.4 L293.4,79.7 L293.5,80.5 L293.6,76.5 L293.7,80.2 L293.9,78.2 L294.0,82.5 L294.1,78.2 L294.2,81.1 L294.3,77.2 L294.4,78.1 L294.5,79.2 L294.6,78.9 L294.7,77.5 L294.8,78.7 L294.9,78.0 L295.0,79.3 L295.1,80.4 L295.2,76.6 L295.3,76.2 L295.4,77.4 L295.5,76.0 L295.7,77.1 L295.8,78.8 L295.9,79.4 L296.0,80.9 L296.1,79.6 L296.2,80.2 L296.3,77.7 L296.4,80.1 L296.5,81.0 L296.6,80.9 L296.7,80.2 L296.8,80.9 L296.9,78.7 L297.0,77.1 L297.1,81.6 L297.2,82.2 L297.3,80.8 L297.5,80.0 L297.6,81.3 L297.7,82.4 L297.8,81.9 L297.9,82.9 L298.0,81.0 L298.1,82.0 L298.2,79.3 L298.3,79.1 L298.4,78.6 L298.5,79.3 L298.6,80.2 L298.7,82.1 L298.8,83.4 L298.9,80.6 L299.0,80.0 L299.2,80.5 L299.3,82.1 L299.4,80.7 L299.5,81.3 L299.6,83.2 L299.7,82.1 L299.8,82.5 L299.9,80.3 L300.0,81.3 L300.1,81.2 L300.2,83.0 L300.3,79.3 L300.4,79.0 L300.5,80.0 L300.6,81.3 L300.7,81.5 L300.8,83.0 L301.0,80.9 L301.1,80.6 L301.2,78.5 L301.3,81.1 L301.4,82.0 L301.5,80.3 L301.6,81.5 L301.7,79.9 L301.8,81.8 L301.9,83.7 L302.0,80.7 L302.1,83.3 L302.2,83.7 L302.3,82.1 L302.4,84.0 L302.5,83.9 L302.6,80.9 L302.8,82.9 L302.9,83.1 L303.0,81.4 L303.1,83.0 L303.2,82.2 L303.3,81.2 L303.4,78.5 L303.5,80.0 L303.6,81.2 L303.7,82.2 L303.8,81.8 L303.9,78.5 L304.0,80.7 L304.1,82.9 L304.2,84.7 L304.3,81.2 L304.5,82.0 L304.6,84.0 L304.7,82.5 L304.8,83.1 L304.9,82.1 L305.0,84.8 L305.1,83.1 L305.2,80.9 L305.3,82.6 L305.4,82.8 L305.5,82.7 L305.6,81.9 L305.7,80.1 L305.8,82.3 L305.9,81.9 L306.0,80.7 L306.1,81.8 L306.3,83.5 L306.4,82.5 L306.5,81.6 L306.6,82.0 L306.7,83.6 L306.8,84.1 L306.9,81.8 L307.0,80.8 L307.1,83.0 L307.2,84.6 L307.3,83.5 L307.4,82.8 L307.5,81.4 L307.6,83.0 L307.7,84.2 L307.8,82.6 L307.9,82.9 L308.1,83.9 L308.2,81.0 L308.3,84.2 L308.4,83.6 L308.5,82.4 L308.6,80.5 L308.7,82.7 L308.8,79.4 L308.9,82.8 L309.0,82.5 L309.1,81.2 L309.2,80.8 L309.3,82.1 L309.4,82.1 L309.5,79.3 L309.6,80.9 L309.8,81.6 L309.9,83.7 L310.0,82.5 L310.1,84.3 L310.2,82.6 L310.3,82.4 L310.4,82.7 L310.5,80.5 L310.6,81.7 L310.7,80.8 L310.8,84.8 L310.9,82.2 L311.0,83.5 L311.1,84.7 L311.2,82.2 L311.3,80.2 L311.4,81.6 L311.6,83.1 L311.7,83.1 L311.8,86.3 L311.9,84.8 L312.0,81.9 L312.1,82.3 L312.2,84.7 L312.3,83.4 L312.4,79.4 L312.5,79.7 L312.6,81.5 L312.7,81.8 L312.8,81.8 L312.9,81.2 L313.0,85.6 L313.1,81.6 L313.2,85.7 L313.4,84.4 L313.5,84.9 L313.6,84.6 L313.7,85.4 L313.8,85.7 L313.9,84.0 L314.0,83.7 L314.1,83.8 L314.2,84.2 L314.3,84.2 L314.4,85.4 L314.5,86.2 L314.6,84.6 L314.7,83.2 L314.8,83.9 L314.9,87.9 L315.1,86.7 L315.2,86.1 L315.3,87.9 L315.4,84.3 L315.5,86.6 L315.6,85.6 L315.7,84.7 L315.8,86.7 L315.9,85.4" fill="none" stroke="#ff00ff" stroke-width="0.45" stroke-linejoin="round"/>
<rect x="40.4" y="20.9" width="275.50" height="120.35" fill="none" stroke="#1a1a1a" stroke-width="0.68"/>
<line x1="95.50" y1="141.25" x2="95.50" y2="134.25" stroke="#1a1a1a" stroke-width="0.68"/>
<line x1="150.60" y1="141.25" x2="150.60" y2="134.25" stroke="#1a1a1a" stroke-width="0.68"/>
<line x1="205.70" y1="141.25" x2="205.70" y2="134.25" stroke="#1a1a1a" stroke-width="0.68"/>
<line x1="260.80" y1="141.25" x2="260.80" y2="134.25" stroke="#1a1a1a" stroke-width="0.68"/>
<line x1="40.4" y1="121.19" x2="47.4" y2="121.19" stroke="#1a1a1a" stroke-width="0.68"/>
<line x1="40.4" y1="101.13" x2="47.4" y2="101.13" stroke="#1a1a1a" stroke-width="0.68"/>
<line x1="40.4" y1="81.08" x2="47.4" y2="81.08" stroke="#1a1a1a" stroke-width="0.68"/>
<line x1="40.4" y1="61.02" x2="47.4" y2="61.02" stroke="#1a1a1a" stroke-width="0.68"/>
<line x1="40.4" y1="40.96" x2="47.4" y2="40.96" stroke="#1a1a1a" stroke-width="0.68"/>
<text transform="translate(40.4 154.4) scale(1.0 1)" text-anchor="middle" font-size="14">0</text>
<text transform="translate(95.5 154.4) scale(1.0 1)" text-anchor="middle" font-size="14">20</text>
<text transform="translate(150.6 154.4) scale(1.0 1)" text-anchor="middle" font-size="14">40</text>
<text transform="translate(205.7 154.4) scale(1.0 1)" text-anchor="middle" font-size="14">60</text>
<text transform="translate(260.8 154.4) scale(1.0 1)" text-anchor="middle" font-size="14">80</text>
<text transform="translate(315.9 154.4) scale(1.0 1)" text-anchor="middle" font-size="14">100</text>
<text transform="translate(37.4 145.95) scale(1.0 1)" text-anchor="end" font-size="14">0</text>
<text transform="translate(37.4 125.89) scale(1.0 1)" text-anchor="end" font-size="14">0.1</text>
<text transform="translate(37.4 105.83) scale(1.0 1)" text-anchor="end" font-size="14">0.2</text>
<text transform="translate(37.4 85.78) scale(1.0 1)" text-anchor="end" font-size="14">0.3</text>
<text transform="translate(37.4 65.72) scale(1.0 1)" text-anchor="end" font-size="14">0.4</text>
<text transform="translate(37.4 45.66) scale(1.0 1)" text-anchor="end" font-size="14">0.5</text>
<text transform="translate(37.4 25.6) scale(1.0 1)" text-anchor="end" font-size="14">0.6</text>
<text transform="translate(178.5 168.3) scale(1.045 1)" text-anchor="middle" font-size="14">Time (ns)</text>
<text transform="translate(12.6 81.6) rotate(-90) scale(0.977 1)" text-anchor="middle" font-size="14">RMSD (nm)</text>
<text transform="translate(8 11.8) scale(1.0 1)" text-anchor="start" font-size="14" font-weight="bold">A</text>
<path d="M400.5,57.4 L401.2,80.3 L401.9,111.1 L402.6,125.5 L403.3,130.3 L404.0,132.4 L404.7,134.1 L405.4,133.7 L406.1,133.8 L406.8,134.9 L407.5,135.0 L408.2,134.9 L408.9,134.4 L409.6,134.7 L410.3,134.5 L411.0,133.0 L411.7,130.5 L412.4,129.6 L413.1,132.2 L413.8,134.3 L414.5,134.8 L415.2,135.8 L415.9,134.7 L416.6,133.8 L417.3,133.8 L418.0,132.9 L418.7,131.2 L419.4,130.8 L420.1,129.3 L420.8,130.0 L421.5,131.0 L422.2,132.3 L422.9,133.3 L423.6,134.6 L424.3,135.4 L425.0,136.5 L425.7,137.5 L426.4,137.1 L427.1,139.2 L427.8,137.7 L428.5,138.9 L429.2,139.8 L429.9,139.5 L430.6,139.6 L431.3,138.7 L432.0,139.8 L432.7,138.7 L433.4,138.5 L434.1,138.9 L434.8,137.8 L435.5,136.0 L436.2,136.0 L436.9,136.7 L437.6,137.9 L438.3,137.2 L439.0,136.5 L439.7,135.0 L440.4,135.2 L441.1,133.4 L441.8,131.8 L442.5,131.6 L443.2,130.3 L443.9,132.1 L444.6,132.2 L445.3,131.3 L446.0,133.6 L446.7,133.8 L447.4,132.9 L448.1,135.0 L448.8,135.0 L449.5,134.7 L450.2,135.0 L450.9,135.2 L451.6,135.6 L452.3,135.1 L453.0,135.1 L453.7,135.2 L454.4,135.8 L455.1,135.7 L455.8,136.2 L456.5,134.4 L457.2,135.8 L457.9,133.9 L458.6,132.4 L459.3,133.2 L460.0,132.0 L460.7,130.8 L461.4,129.1 L462.1,129.1 L462.8,127.7 L463.5,125.7 L464.2,123.3 L464.9,120.1 L465.6,123.3 L466.3,127.1 L467.0,131.5 L467.7,131.9 L468.4,133.9 L469.1,133.2 L469.8,134.3 L470.5,134.6 L471.2,135.6 L471.9,137.2 L472.6,137.1 L473.3,135.5 L474.0,135.2 L474.7,134.5 L475.4,132.8 L476.1,132.3 L476.8,133.4 L477.5,131.9 L478.2,134.0 L478.9,133.8 L479.6,131.8 L480.3,132.3 L481.0,131.6 L481.7,131.5 L482.4,131.4 L483.1,130.5 L483.8,130.4 L484.5,131.0 L485.2,129.0 L485.9,128.1 L486.6,126.1 L487.3,126.7 L488.0,124.2 L488.7,122.7 L489.4,120.3 L490.1,117.0 L490.8,116.1 L491.5,120.0 L492.2,123.0 L492.9,125.3 L493.6,128.7 L494.3,130.7 L495.0,131.4 L495.7,133.1 L496.4,135.0 L497.1,136.6 L497.8,136.7 L498.5,137.9 L499.2,136.7 L499.9,137.4 L500.6,137.9 L501.3,138.6 L502.0,138.1 L502.7,137.2 L503.4,137.2 L504.1,137.6 L504.8,137.2 L505.5,137.2 L506.2,138.4 L506.9,138.6 L507.6,139.0 L508.3,139.1 L509.0,137.9 L509.7,138.1 L510.4,138.2 L511.1,139.1 L511.8,138.5 L512.5,136.6 L513.2,135.5 L513.9,132.5 L514.6,125.3 L515.3,116.8 L516.0,104.4 L516.7,91.9 L517.4,71.0 L518.1,50.3 L518.8,33.0 L519.5,42.2 L520.2,66.1 L520.9,94.0 L521.6,121.0 L522.3,128.2 L523.0,133.2 L523.7,134.8 L524.4,136.1 L525.1,138.2 L525.8,136.7 L526.5,137.0 L527.2,135.3 L527.9,137.0 L528.6,137.5 L529.3,138.1 L530.0,139.5 L530.7,139.8 L531.4,138.9 L532.1,137.2 L532.8,138.1 L533.5,137.2 L534.2,135.9 L534.9,136.0 L535.6,135.1 L536.3,133.1 L537.0,131.0 L537.7,129.3 L538.4,126.3 L539.1,125.3 L539.8,122.9 L540.5,120.0 L541.2,118.7 L541.9,120.4 L542.6,119.3 L543.3,121.9 L544.0,127.1 L544.7,130.0 L545.4,131.6 L546.1,133.0 L546.8,134.3 L547.5,134.7 L548.2,135.1 L548.9,135.2 L549.6,133.0 L550.3,131.0 L551.0,126.7 L551.7,125.4 L552.4,123.5 L553.1,122.8 L553.8,126.9 L554.5,128.6 L555.2,132.5 L555.9,133.6 L556.6,134.9 L557.3,136.6 L558.0,136.5 L558.7,139.5 L559.4,138.4 L560.1,138.8 L560.8,139.8 L561.5,139.0 L562.2,139.8 L562.9,138.5 L563.6,138.4 L564.3,139.1 L565.0,138.7 L565.7,137.6 L566.4,137.1 L567.1,135.3 L567.8,135.1 L568.5,133.7 L569.2,131.3 L569.9,129.6 L570.6,127.3 L571.3,116.0 L572.0,104.2 L572.7,100.8 L573.4,98.0 L574.1,95.1 L574.8,93.6 L575.5,92.2 L576.2,86.1 L576.9,78.0 L577.6,86.5 L578.3,96.8 L579.0,109.7 L579.7,119.1 L580.4,126.3 L581.1,131.9 L581.8,132.9 L582.5,135.5 L583.2,137.2 L583.9,137.2 L584.6,138.9 L585.3,139.1 L586.0,135.7 L586.7,131.8 L587.4,128.9 L588.1,124.8 L588.8,128.6 L589.5,132.7 L590.2,135.2 L590.9,138.0 L591.6,140.6 L592.3,138.0 L593.0,137.4 L593.7,137.3 L594.4,135.7 L595.1,134.3 L595.8,133.7 L596.5,131.7 L597.2,131.6 L597.9,130.6 L598.6,127.4 L599.3,123.6 L600.0,124.2 L600.7,128.9 L601.4,132.7 L602.1,134.0 L602.8,134.3 L603.5,136.8 L604.2,132.4 L604.9,130.6 L605.6,126.2 L606.3,122.4 L607.0,118.8 L607.7,115.9 L608.4,109.5 L609.1,113.1 L609.8,114.8 L610.5,115.9 L611.2,117.5 L611.9,119.8 L612.6,126.0 L613.3,130.9 L614.0,129.4 L614.7,130.4 L615.4,126.1 L616.1,122.2 L616.8,122.5 L617.5,125.2 L618.2,125.3 L618.9,124.3 L619.6,123.9 L620.3,120.5 L621.0,118.0 L621.7,125.1 L622.4,129.5 L623.1,133.1 L623.8,133.8 L624.5,134.7 L625.2,137.5 L625.9,136.6 L626.6,137.5 L627.3,136.9 L628.0,137.4 L628.7,137.1 L629.4,137.3 L630.1,137.0 L630.8,137.5 L631.5,138.8 L632.2,137.6 L632.9,137.0 L633.6,136.3 L634.3,136.1 L635.0,132.3 L635.7,131.2 L636.4,128.7 L637.1,128.8 L637.8,129.2 L638.5,133.4 L639.2,134.4 L639.9,137.7 L640.6,137.8 L641.3,137.2 L642.0,139.3 L642.7,139.0 L643.4,137.3 L644.1,136.6 L644.8,136.3 L645.5,132.7 L646.2,130.9 L646.9,129.1 L647.6,132.4 L648.3,135.5 L649.0,136.6 L649.7,135.9 L650.4,133.7 L651.1,129.7 L651.8,125.9 L652.5,126.4 L653.2,129.9 L653.9,129.5 L654.6,122.0 L655.3,119.9 L656.0,119.5 L656.7,120.7 L657.4,122.3 L658.1,125.0 L658.8,124.0 L659.5,119.4 L660.2,122.3" fill="none" stroke="#222" stroke-width="0.7" stroke-linejoin="round"/>
<path d="M400.5,57.4 L401.2,84.9 L401.9,118.3 L402.6,133.2 L403.3,134.6 L404.0,137.4 L404.7,136.5 L405.4,136.7 L406.1,137.2 L406.8,135.0 L407.5,136.9 L408.2,135.8 L408.9,135.0 L409.6,136.0 L410.3,134.2 L411.0,134.8 L411.7,133.9 L412.4,135.1 L413.1,136.1 L413.8,135.6 L414.5,136.9 L415.2,136.6 L415.9,135.2 L416.6,134.1 L417.3,134.0 L418.0,133.5 L418.7,131.5 L419.4,129.9 L420.1,128.5 L420.8,127.3 L421.5,127.6 L422.2,127.6 L422.9,128.8 L423.6,130.5 L424.3,131.8 L425.0,132.9 L425.7,133.8 L426.4,134.0 L427.1,134.4 L427.8,136.2 L428.5,137.6 L429.2,138.1 L429.9,138.0 L430.6,139.5 L431.3,140.3 L432.0,140.5 L432.7,140.2 L433.4,138.7 L434.1,142.0 L434.8,139.4 L435.5,139.2 L436.2,138.5 L436.9,139.3 L437.6,137.0 L438.3,136.9 L439.0,136.8 L439.7,135.9 L440.4,135.5 L441.1,133.9 L441.8,132.9 L442.5,131.1 L443.2,131.7 L443.9,132.2 L444.6,132.0 L445.3,132.3 L446.0,133.0 L446.7,134.7 L447.4,133.7 L448.1,135.5 L448.8,135.9 L449.5,135.8 L450.2,135.8 L450.9,135.6 L451.6,137.9 L452.3,136.3 L453.0,136.5 L453.7,137.7 L454.4,137.4 L455.1,137.6 L455.8,137.1 L456.5,137.0 L457.2,136.7 L457.9,135.3 L458.6,132.7 L459.3,129.4 L460.0,128.5 L460.7,126.2 L461.4,124.7 L462.1,126.2 L462.8,125.8 L463.5,124.1 L464.2,122.5 L464.9,120.0 L465.6,120.9 L466.3,125.5 L467.0,130.6 L467.7,130.1 L468.4,132.2 L469.1,132.3 L469.8,132.5 L470.5,134.1 L471.2,134.7 L471.9,134.6 L472.6,135.3 L473.3,134.6 L474.0,134.0 L474.7,133.5 L475.4,132.8 L476.1,130.5 L476.8,132.7 L477.5,131.4 L478.2,132.7 L478.9,131.5 L479.6,131.7 L480.3,132.2 L481.0,132.9 L481.7,133.4 L482.4,131.5 L483.1,132.2 L483.8,131.5 L484.5,129.1 L485.2,128.0 L485.9,127.6 L486.6,126.6 L487.3,125.7 L488.0,123.9 L488.7,123.3 L489.4,123.5 L490.1,123.3 L490.8,123.2 L491.5,125.7 L492.2,126.8 L492.9,128.1 L493.6,129.2 L494.3,132.2 L495.0,134.0 L495.7,134.2 L496.4,137.3 L497.1,138.4 L497.8,138.0 L498.5,138.4 L499.2,139.3 L499.9,141.8 L500.6,140.3 L501.3,140.3 L502.0,140.7 L502.7,140.3 L503.4,139.9 L504.1,140.6 L504.8,141.0 L505.5,141.3 L506.2,140.0 L506.9,140.2 L507.6,139.9 L508.3,140.0 L509.0,139.0 L509.7,138.5 L510.4,138.5 L511.1,139.2 L511.8,137.2 L512.5,135.7 L513.2,135.6 L513.9,130.7 L514.6,124.5 L515.3,116.1 L516.0,104.4 L516.7,94.0 L517.4,83.5 L518.1,74.0 L518.8,65.9 L519.5,71.5 L520.2,82.0 L520.9,98.3 L521.6,115.2 L522.3,128.7 L523.0,134.0 L523.7,134.7 L524.4,136.5 L525.1,137.1 L525.8,136.3 L526.5,135.5 L527.2,134.7 L527.9,134.5 L528.6,135.5 L529.3,137.6 L530.0,138.4 L530.7,137.9 L531.4,137.3 L532.1,138.3 L532.8,137.3 L533.5,136.7 L534.2,136.7 L534.9,135.2 L535.6,133.7 L536.3,132.2 L537.0,129.5 L537.7,127.0 L538.4,125.0 L539.1,124.5 L539.8,123.6 L540.5,121.1 L541.2,120.6 L541.9,118.6 L542.6,121.8 L543.3,122.8 L544.0,126.0 L544.7,126.5 L545.4,125.9 L546.1,126.4 L546.8,130.5 L547.5,131.7 L548.2,132.7 L548.9,134.1 L549.6,133.8 L550.3,131.2 L551.0,127.0 L551.7,122.5 L552.4,117.4 L553.1,113.6 L553.8,112.8 L554.5,115.9 L555.2,121.4 L555.9,126.8 L556.6,131.7 L557.3,133.4 L558.0,136.1 L558.7,137.6 L559.4,138.5 L560.1,140.1 L560.8,139.6 L561.5,140.0 L562.2,139.2 L562.9,138.1 L563.6,138.3 L564.3,138.0 L565.0,136.4 L565.7,137.3 L566.4,136.8 L567.1,137.4 L567.8,137.7 L568.5,136.6 L569.2,136.1 L569.9,135.8 L570.6,132.2 L571.3,129.7 L572.0,127.6 L572.7,122.8 L573.4,119.0 L574.1,114.6 L574.8,117.5 L575.5,117.4 L576.2,116.3 L576.9,115.4 L577.6,114.9 L578.3,117.9 L579.0,124.6 L579.7,128.9 L580.4,132.5 L581.1,134.2 L581.8,136.2 L582.5,135.6 L583.2,137.1 L583.9,137.7 L584.6,137.7 L585.3,137.9 L586.0,135.6 L586.7,132.9 L587.4,131.0 L588.1,130.1 L588.8,131.6 L589.5,133.9 L590.2,137.3 L590.9,139.6 L591.6,139.0 L592.3,139.1 L593.0,138.7 L593.7,138.6 L594.4,137.8 L595.1,136.5 L595.8,136.0 L596.5,135.2 L597.2,132.2 L597.9,131.2 L598.6,128.2 L599.3,128.4 L600.0,127.2 L600.7,129.0 L601.4,129.7 L602.1,132.1 L602.8,134.1 L603.5,136.2 L604.2,134.8 L604.9,133.6 L605.6,133.8 L606.3,132.0 L607.0,131.4 L607.7,130.8 L608.4,130.2 L609.1,130.4 L609.8,133.5 L610.5,130.9 L611.2,127.7 L611.9,125.7 L612.6,120.0 L613.3,123.0 L614.0,126.4 L614.7,123.7 L615.4,120.2 L616.1,122.3 L616.8,124.9 L617.5,123.7 L618.2,122.6 L618.9,122.0 L619.6,123.5 L620.3,125.9 L621.0,129.4 L621.7,131.3 L622.4,135.0 L623.1,136.7 L623.8,138.7 L624.5,138.8 L625.2,139.1 L625.9,139.0 L626.6,138.0 L627.3,137.7 L628.0,139.2 L628.7,139.1 L629.4,139.5 L630.1,139.7 L630.8,138.8 L631.5,139.4 L632.2,139.6 L632.9,138.4 L633.6,138.7 L634.3,138.2 L635.0,136.2 L635.7,133.8 L636.4,132.4 L637.1,130.9 L637.8,132.6 L638.5,135.3 L639.2,136.7 L639.9,138.6 L640.6,139.4 L641.3,139.6 L642.0,138.6 L642.7,140.2 L643.4,138.9 L644.1,138.2 L644.8,136.6 L645.5,137.1 L646.2,136.9 L646.9,134.9 L647.6,136.3 L648.3,138.3 L649.0,139.9 L649.7,139.1 L650.4,139.0 L651.1,138.0 L651.8,136.3 L652.5,134.2 L653.2,130.8 L653.9,132.4 L654.6,132.2 L655.3,129.5 L656.0,128.3 L656.7,129.5 L657.4,129.0 L658.1,127.4 L658.8,128.7 L659.5,123.1 L660.2,115.0" fill="none" stroke="#ff30ff" stroke-width="0.7" stroke-linejoin="round"/>
<rect x="393.55" y="26.9" width="279.90" height="122.05" fill="none" stroke="#1a1a1a" stroke-width="0.68"/>
<line x1="463.53" y1="148.95" x2="463.53" y2="141.95" stroke="#1a1a1a" stroke-width="0.68"/>
<line x1="533.50" y1="148.95" x2="533.50" y2="141.95" stroke="#1a1a1a" stroke-width="0.68"/>
<line x1="603.48" y1="148.95" x2="603.48" y2="141.95" stroke="#1a1a1a" stroke-width="0.68"/>
<line x1="393.55" y1="118.44" x2="400.55" y2="118.44" stroke="#1a1a1a" stroke-width="0.68"/>
<line x1="393.55" y1="87.92" x2="400.55" y2="87.92" stroke="#1a1a1a" stroke-width="0.68"/>
<line x1="393.55" y1="57.41" x2="400.55" y2="57.41" stroke="#1a1a1a" stroke-width="0.68"/>
<text transform="translate(394.15 163.45) scale(0.98 1)" text-anchor="middle" font-size="15">0</text>
<text transform="translate(464.13 163.45) scale(0.98 1)" text-anchor="middle" font-size="15">100</text>
<text transform="translate(534.1 163.45) scale(0.98 1)" text-anchor="middle" font-size="15">200</text>
<text transform="translate(604.08 163.45) scale(0.98 1)" text-anchor="middle" font-size="15">300</text>
<text transform="translate(674.05 163.45) scale(0.98 1)" text-anchor="middle" font-size="15">400</text>
<text transform="translate(390.55 153.85) scale(0.98 1)" text-anchor="end" font-size="15">0</text>
<text transform="translate(390.55 123.34) scale(0.98 1)" text-anchor="end" font-size="15">0.2</text>
<text transform="translate(390.55 92.83) scale(0.98 1)" text-anchor="end" font-size="15">0.4</text>
<text transform="translate(390.55 62.31) scale(0.98 1)" text-anchor="end" font-size="15">0.6</text>
<text transform="translate(390.55 31.8) scale(0.98 1)" text-anchor="end" font-size="15">0.8</text>
<text transform="translate(533.6 176.7) scale(0.99 1)" text-anchor="middle" font-size="15">#Residue</text>
<text transform="translate(365.8 86.8) rotate(-90) scale(0.98 1)" text-anchor="middle" font-size="14.5">RMSF (nm)</text>
<text transform="translate(377 17.1) scale(1.0 1)" text-anchor="start" font-size="14.4" font-weight="bold">B</text>
<line x1="557" y1="36.6" x2="575.2" y2="36.6" stroke="#000" stroke-width="2.2"/>
<line x1="557.6" y1="45.9" x2="575.6" y2="45.9" stroke="#ff00ff" stroke-width="2.2"/>
<text transform="translate(580.6 40.6) scale(1.0 1)" text-anchor="start" font-size="10">PDK3</text>
<text transform="translate(580.6 49.9) scale(1.0 1)" text-anchor="start" font-size="10">PDK3-Pcresol</text>
<path d="M84.46,322.50 L131.07,311.77 L177.67,264.21 L224.28,269.94 L270.89,322.50" fill="none" stroke="#444" stroke-width="0.68" stroke-linejoin="round"/>
<path d="M84.46,322.50 L131.07,298.84 L177.67,223.96 L224.28,322.50" fill="none" stroke="#ff48ff" stroke-width="0.68" stroke-linejoin="round"/>
<rect x="37.85" y="200.55" width="279.65" height="121.95" fill="none" stroke="#1a1a1a" stroke-width="0.68"/>
<line x1="84.46" y1="322.5" x2="84.46" y2="315.5" stroke="#1a1a1a" stroke-width="0.68"/>
<line x1="131.07" y1="322.5" x2="131.07" y2="315.5" stroke="#1a1a1a" stroke-width="0.68"/>
<line x1="177.67" y1="322.5" x2="177.67" y2="315.5" stroke="#1a1a1a" stroke-width="0.68"/>
<line x1="224.28" y1="322.5" x2="224.28" y2="315.5" stroke="#1a1a1a" stroke-width="0.68"/>
<line x1="270.89" y1="322.5" x2="270.89" y2="315.5" stroke="#1a1a1a" stroke-width="0.68"/>
<line x1="37.85" y1="298.11" x2="44.85" y2="298.11" stroke="#1a1a1a" stroke-width="0.68"/>
<line x1="37.85" y1="273.72" x2="44.85" y2="273.72" stroke="#1a1a1a" stroke-width="0.68"/>
<line x1="37.85" y1="249.33" x2="44.85" y2="249.33" stroke="#1a1a1a" stroke-width="0.68"/>
<line x1="37.85" y1="224.94" x2="44.85" y2="224.94" stroke="#1a1a1a" stroke-width="0.68"/>
<text transform="translate(37.45 336.0) scale(1.0 1)" text-anchor="middle" font-size="14">0</text>
<text transform="translate(84.06 336.0) scale(1.0 1)" text-anchor="middle" font-size="14">0.1</text>
<text transform="translate(130.67 336.0) scale(1.0 1)" text-anchor="middle" font-size="14">0.2</text>
<text transform="translate(177.27 336.0) scale(1.0 1)" text-anchor="middle" font-size="14">0.3</text>
<text transform="translate(223.88 336.0) scale(1.0 1)" text-anchor="middle" font-size="14">0.4</text>
<text transform="translate(270.49 336.0) scale(1.0 1)" text-anchor="middle" font-size="14">0.5</text>
<text transform="translate(317.1 336.0) scale(1.0 1)" text-anchor="middle" font-size="14">0.6</text>
<text transform="translate(34.550000000000004 327.2) scale(1.0 1)" text-anchor="end" font-size="14">0</text>
<text transform="translate(34.550000000000004 302.81) scale(1.0 1)" text-anchor="end" font-size="14">2</text>
<text transform="translate(34.550000000000004 278.42) scale(1.0 1)" text-anchor="end" font-size="14">4</text>
<text transform="translate(34.550000000000004 254.03) scale(1.0 1)" text-anchor="end" font-size="14">6</text>
<text transform="translate(34.550000000000004 229.64) scale(1.0 1)" text-anchor="end" font-size="14">8</text>
<text transform="translate(34.550000000000004 205.25) scale(1.0 1)" text-anchor="end" font-size="14">10</text>
<text transform="translate(177.8 348.5) scale(1.065 1)" text-anchor="middle" font-size="14">RMSD (nm)</text>
<text transform="translate(16.0 261) rotate(-90) scale(1.0 1)" text-anchor="middle" font-size="14">PDF</text>
<text transform="translate(11.4 191.9) scale(1.0 1)" text-anchor="start" font-size="14" font-weight="bold">C</text>
<path d="M398.55,322.40 L444.53,225.44 L490.52,304.93 L536.50,319.75 L582.48,319.27 L628.47,321.68 L674.45,321.44" fill="none" stroke="#444" stroke-width="0.68" stroke-linejoin="round"/>
<path d="M398.55,322.40 L444.53,220.38 L490.52,307.34 L536.50,321.20 L582.48,321.56 L628.47,322.40 L674.45,321.80" fill="none" stroke="#ff48ff" stroke-width="0.68" stroke-linejoin="round"/>
<rect x="398.55" y="201.95" width="275.90" height="120.45" fill="none" stroke="#1a1a1a" stroke-width="0.68"/>
<line x1="444.53" y1="322.4" x2="444.53" y2="315.4" stroke="#1a1a1a" stroke-width="0.68"/>
<line x1="490.52" y1="322.4" x2="490.52" y2="315.4" stroke="#1a1a1a" stroke-width="0.68"/>
<line x1="536.50" y1="322.4" x2="536.50" y2="315.4" stroke="#1a1a1a" stroke-width="0.68"/>
<line x1="582.48" y1="322.4" x2="582.48" y2="315.4" stroke="#1a1a1a" stroke-width="0.68"/>
<line x1="628.47" y1="322.4" x2="628.47" y2="315.4" stroke="#1a1a1a" stroke-width="0.68"/>
<line x1="398.55" y1="298.31" x2="405.55" y2="298.31" stroke="#1a1a1a" stroke-width="0.68"/>
<line x1="398.55" y1="274.22" x2="405.55" y2="274.22" stroke="#1a1a1a" stroke-width="0.68"/>
<line x1="398.55" y1="250.13" x2="405.55" y2="250.13" stroke="#1a1a1a" stroke-width="0.68"/>
<line x1="398.55" y1="226.04" x2="405.55" y2="226.04" stroke="#1a1a1a" stroke-width="0.68"/>
<text transform="translate(398.55 335.9) scale(1.0 1)" text-anchor="middle" font-size="14">0</text>
<text transform="translate(444.53 335.9) scale(1.0 1)" text-anchor="middle" font-size="14">0.1</text>
<text transform="translate(490.52 335.9) scale(1.0 1)" text-anchor="middle" font-size="14">0.2</text>
<text transform="translate(536.5 335.9) scale(1.0 1)" text-anchor="middle" font-size="14">0.3</text>
<text transform="translate(582.48 335.9) scale(1.0 1)" text-anchor="middle" font-size="14">0.4</text>
<text transform="translate(628.47 335.9) scale(1.0 1)" text-anchor="middle" font-size="14">0.5</text>
<text transform="translate(674.45 335.9) scale(1.0 1)" text-anchor="middle" font-size="14">0.6</text>
<text transform="translate(395.55 327.1) scale(1.0 1)" text-anchor="end" font-size="14">0</text>
<text transform="translate(395.55 303.01) scale(1.0 1)" text-anchor="end" font-size="14">2</text>
<text transform="translate(395.55 278.92) scale(1.0 1)" text-anchor="end" font-size="14">4</text>
<text transform="translate(395.55 254.83) scale(1.0 1)" text-anchor="end" font-size="14">6</text>
<text transform="translate(395.55 230.74) scale(1.0 1)" text-anchor="end" font-size="14">8</text>
<text transform="translate(395.55 206.65) scale(1.0 1)" text-anchor="end" font-size="14">10</text>
<text transform="translate(536.6 348.5) scale(1.035 1)" text-anchor="middle" font-size="14">RMSF (nm)</text>
<text transform="translate(377.8 261.6) rotate(-90) scale(1.0 1)" text-anchor="middle" font-size="14">PDF</text>
<text transform="translate(377.7 193.1) scale(1.0 1)" text-anchor="start" font-size="14" font-weight="bold">D</text>
</g>
</svg>
</body></html>
